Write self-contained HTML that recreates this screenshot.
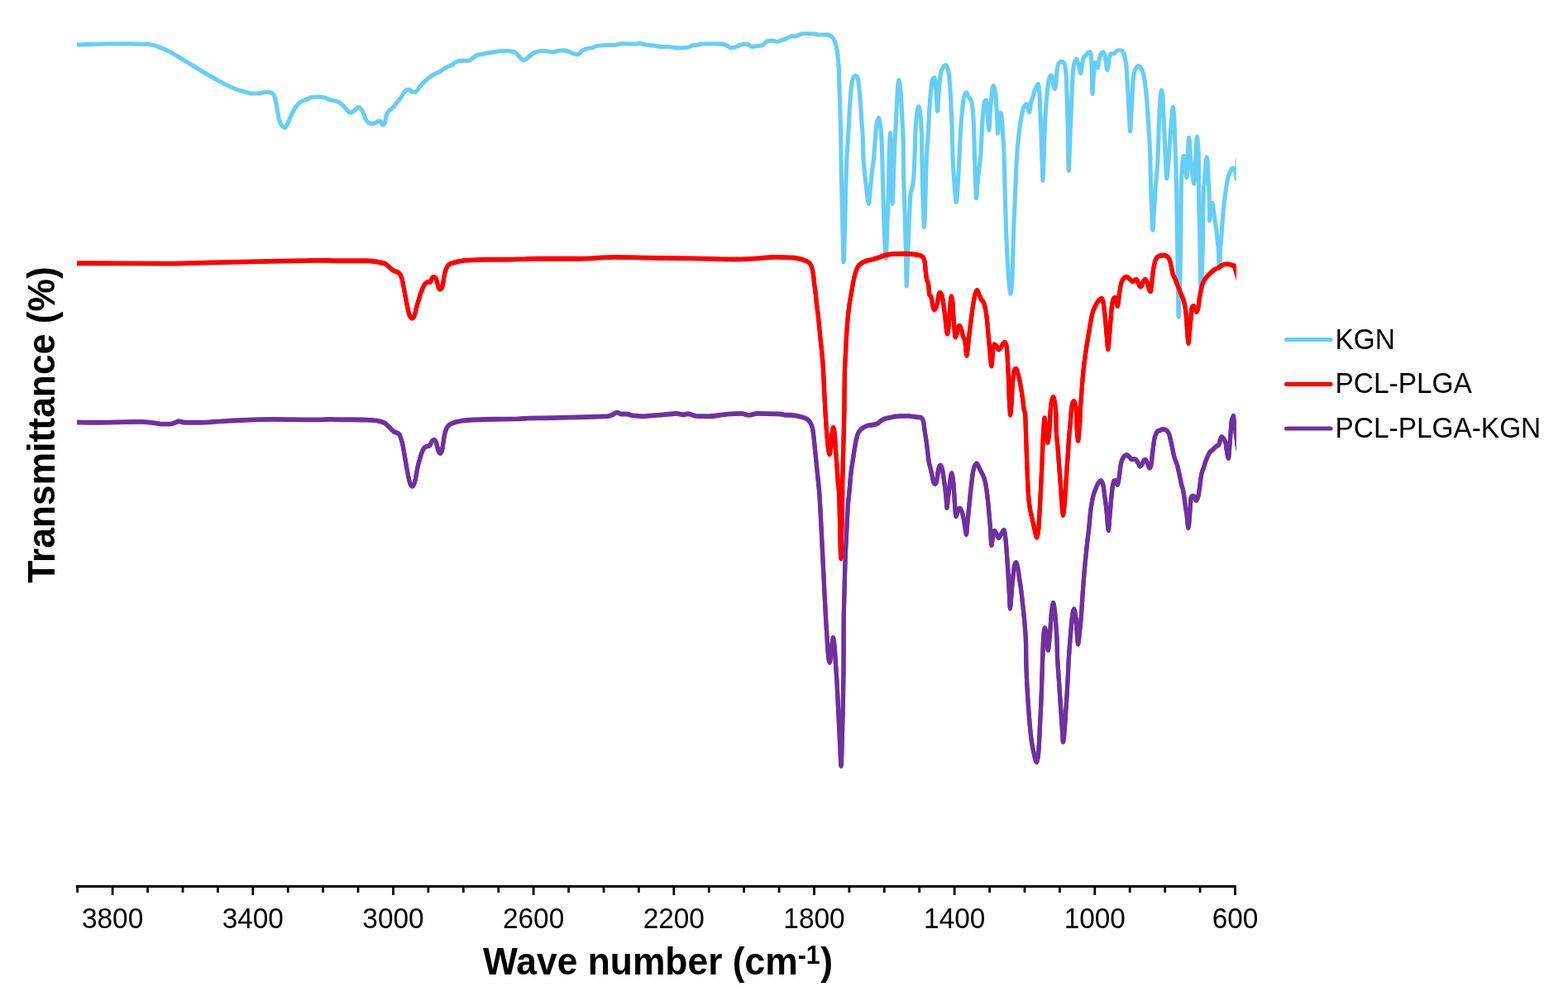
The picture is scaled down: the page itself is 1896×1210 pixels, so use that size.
<!DOCTYPE html>
<html lang="en">
<head>
<meta charset="utf-8">
<title>FTIR spectra</title>
<style>
html,body{margin:0;padding:0;background:#fff;}
body{width:1896px;height:1210px;overflow:hidden;font-family:"Liberation Sans",sans-serif;}
svg{display:block;}
.curve{fill:none;stroke-width:5.15;stroke-linejoin:round;stroke-linecap:round;}
.tick line{stroke:#000;stroke-width:2.8;}
.lbl text{font-family:"Liberation Sans",sans-serif;font-size:33.4px;fill:#000;}
.ttl{font-family:"Liberation Sans",sans-serif;font-weight:bold;font-size:44.4px;fill:#000;}
</style>
</head>
<body>
<svg width="1896" height="1210" viewBox="0 0 1896 1210">
<rect width="1896" height="1210" fill="#fff"/>
<svg x="93" y="0" width="1401.8" height="1070" viewBox="93 0 1401.8 1070" overflow="hidden">
<path class="curve" stroke="#66CEF5" d="M93.0,54.0C105.3,53.7 117.7,53.2 130.0,53.0C136.7,52.9 143.3,52.8 150.0,52.8C160.0,52.8 170.0,53.0 180.0,53.5C184.2,53.7 188.3,55.6 192.5,57.0C196.7,58.4 200.8,60.4 205.0,62.5C210.0,65.0 215.0,68.3 220.0,71.2C225.0,74.2 230.0,77.5 235.0,80.5C240.0,83.5 245.0,86.6 250.0,89.5C255.0,92.4 260.0,95.3 265.0,98.0C270.0,100.7 275.0,103.4 280.0,105.5C284.2,107.2 288.3,108.8 292.5,110.0C296.7,111.2 300.8,113.0 305.0,113.0C307.5,113.0 310.0,113.0 312.5,113.0C315.0,113.0 317.5,111.5 320.0,111.5C322.1,111.5 324.2,111.5 326.2,111.5C327.9,111.5 329.6,112.9 331.2,115.0C332.3,116.3 333.4,122.5 334.5,127.5C335.5,132.1 336.5,141.9 337.5,145.0C338.5,148.1 339.5,150.1 340.5,151.2C341.8,152.8 343.2,154.5 344.5,154.5C345.5,154.5 346.5,151.8 347.5,150.0C349.2,147.0 350.8,142.1 352.5,138.8C354.2,135.4 355.8,131.7 357.5,129.5C359.6,126.7 361.7,124.2 363.8,123.0C365.8,121.8 367.9,121.3 370.0,120.5C372.5,119.5 375.0,117.8 377.5,117.5C380.0,117.2 382.5,117.0 385.0,117.0C387.5,117.0 390.0,117.5 392.5,118.0C395.0,118.5 397.5,120.3 400.0,121.0C402.5,121.7 405.0,121.7 407.5,122.5C409.2,123.0 410.8,124.2 412.5,125.5C414.6,127.1 416.7,129.9 418.8,132.0C420.2,133.4 421.6,136.2 423.0,136.2C424.1,136.2 425.2,135.9 426.2,135.5C427.5,135.0 428.8,133.0 430.0,132.0C431.2,131.0 432.5,129.5 433.8,129.5C435.2,129.5 436.6,131.7 438.0,133.8C439.3,135.7 440.7,141.4 442.0,143.8C443.2,145.8 444.3,148.0 445.5,148.5C447.0,149.1 448.5,149.5 450.0,149.5C451.7,149.5 453.3,148.7 455.0,148.0C456.0,147.6 457.0,146.0 458.0,146.0C458.8,146.0 459.7,146.4 460.5,147.0C461.2,147.5 461.8,151.0 462.5,151.0C463.3,151.0 464.2,150.6 465.0,150.0C465.7,149.5 466.3,141.8 467.0,140.0C468.2,136.8 469.3,135.1 470.5,133.8C472.0,132.0 473.5,131.5 475.0,130.0C476.7,128.3 478.3,125.8 480.0,123.8C481.7,121.7 483.3,119.7 485.0,117.5C487.1,114.8 489.2,109.4 491.2,108.8C492.5,108.3 493.8,108.0 495.0,108.0C496.2,108.0 497.5,111.2 498.8,111.2C500.0,111.2 501.2,111.2 502.5,111.2C504.2,111.2 505.8,106.9 507.5,105.0C510.0,102.1 512.5,99.2 515.0,97.0C517.5,94.8 520.0,92.8 522.5,91.2C525.8,89.2 529.2,88.2 532.5,86.2C535.0,84.8 537.5,82.6 540.0,81.2C542.5,79.9 545.0,79.6 547.5,78.0C548.3,77.5 549.2,75.9 550.0,75.5C552.1,74.4 554.2,73.6 556.2,73.5C560.0,73.3 563.8,73.4 567.5,73.2C569.2,73.2 570.8,70.6 572.5,69.5C574.2,68.4 575.8,67.0 577.5,66.5C580.0,65.7 582.5,65.5 585.0,65.0C588.3,64.4 591.7,63.8 595.0,63.2C598.3,62.7 601.7,61.9 605.0,61.8C607.5,61.6 610.0,61.5 612.5,61.5C615.4,61.5 618.3,61.9 621.2,62.5C622.9,62.9 624.6,64.9 626.2,66.5C627.5,67.7 628.8,69.7 630.0,70.8C631.1,71.7 632.2,73.0 633.2,73.0C634.5,73.0 635.8,71.6 637.0,70.8C638.4,69.7 639.8,68.1 641.2,67.0C643.3,65.4 645.4,63.6 647.5,63.0C650.0,62.2 652.5,61.5 655.0,61.5C657.5,61.5 660.0,61.8 662.5,62.0C664.6,62.2 666.7,63.0 668.8,63.0C670.8,63.0 672.9,61.5 675.0,61.2C677.1,61.0 679.2,60.8 681.2,60.8C683.3,60.8 685.4,61.4 687.5,62.0C689.6,62.6 691.7,64.5 693.8,65.0C695.4,65.4 697.1,65.8 698.8,65.8C700.8,65.8 702.9,61.5 705.0,60.5C706.7,59.7 708.3,59.1 710.0,58.8C711.7,58.4 713.3,58.3 715.0,58.0C717.5,57.5 720.0,55.9 722.5,55.5C725.8,55.0 729.2,54.5 732.5,54.5C736.2,54.5 740.0,54.5 743.8,54.5C745.8,54.5 747.9,52.8 750.0,52.8C753.3,52.8 756.7,52.9 760.0,53.0C762.1,53.1 764.2,53.2 766.2,53.2C768.8,53.2 771.2,52.5 773.8,52.5C775.8,52.5 777.9,53.7 780.0,54.0C783.3,54.5 786.7,54.6 790.0,55.0C793.3,55.4 796.7,56.5 800.0,56.5C802.5,56.5 805.0,56.5 807.5,56.5C810.0,56.5 812.5,57.3 815.0,57.5C817.5,57.7 820.0,58.0 822.5,58.0C825.4,58.0 828.3,57.8 831.2,57.5C833.3,57.3 835.4,55.4 837.5,55.0C839.6,54.6 841.7,54.6 843.8,54.2C845.8,53.9 847.9,53.0 850.0,53.0C855.0,53.0 860.0,53.0 865.0,53.0C867.9,53.0 870.8,53.1 873.8,53.2C875.4,53.3 877.1,54.3 878.8,55.0C880.4,55.7 882.1,58.0 883.8,58.0C885.4,58.0 887.1,57.4 888.8,57.0C890.4,56.6 892.1,55.5 893.8,55.0C896.2,54.2 898.8,53.0 901.2,53.0C902.5,53.0 903.8,53.6 905.0,54.0C906.5,54.5 908.0,56.5 909.5,56.5C911.3,56.5 913.2,55.7 915.0,55.5C917.1,55.3 919.2,55.3 921.2,55.0C923.3,54.7 925.4,50.6 927.5,50.0C929.6,49.4 931.7,49.0 933.8,49.0C935.8,49.0 937.9,50.5 940.0,50.5C942.1,50.5 944.2,48.7 946.2,48.0C947.9,47.4 949.6,47.1 951.2,46.5C953.3,45.7 955.4,43.5 957.5,43.5C959.2,43.5 960.8,44.0 962.5,44.0C964.6,44.0 966.7,41.3 968.8,41.0C970.8,40.7 972.9,40.5 975.0,40.5C978.3,40.5 981.7,40.7 985.0,41.0C986.7,41.1 988.3,42.0 990.0,42.0C993.3,42.0 996.7,41.9 1000.0,41.9C1001.8,41.9 1003.5,42.8 1005.3,43.9C1006.6,44.7 1007.9,47.0 1009.3,49.8C1010.1,51.7 1011.0,54.6 1011.9,59.1C1012.3,61.3 1012.8,65.3 1013.2,69.7C1013.6,73.1 1013.9,75.9 1014.3,82.9C1014.5,86.4 1014.6,97.4 1014.8,102.7C1015.1,110.8 1015.3,114.5 1015.6,122.5C1015.8,127.9 1016.0,135.4 1016.1,142.4C1016.4,152.8 1016.7,150.7 1016.9,175.4C1016.9,177.0 1017.0,188.3 1017.0,190.0C1017.3,219.2 1017.6,216.8 1017.8,229.7C1018.2,243.3 1018.5,256.3 1018.8,269.3C1019.0,280.5 1019.3,293.8 1019.6,302.4C1019.7,308.1 1019.9,316.7 1020.1,316.7C1020.4,316.7 1020.6,308.7 1020.9,302.4C1021.2,295.1 1021.5,281.3 1021.8,269.3C1022.1,257.3 1022.4,241.3 1022.7,229.7C1023.1,214.7 1023.5,198.4 1023.9,190.0C1024.5,176.9 1025.2,172.9 1025.8,162.2C1026.2,154.6 1026.7,143.3 1027.1,135.8C1027.5,128.2 1028.0,120.9 1028.4,115.9C1029.1,108.5 1029.7,101.7 1030.4,98.7C1031.1,95.8 1031.7,93.5 1032.4,92.8C1033.1,92.1 1033.9,91.5 1034.6,91.5C1035.4,91.5 1036.2,92.2 1037.0,93.5C1037.5,94.3 1038.1,99.7 1038.6,104.0C1039.2,108.7 1039.7,115.3 1040.3,122.5C1040.8,128.1 1041.2,135.8 1041.6,142.4C1042.1,149.0 1042.5,153.2 1043.0,162.2C1043.3,168.5 1043.6,184.6 1043.9,190.0C1044.5,200.0 1045.0,204.1 1045.6,209.8C1046.4,217.4 1047.1,224.1 1047.9,229.7C1048.7,236.2 1049.6,246.3 1050.5,246.3C1051.1,246.3 1051.6,235.3 1052.2,229.7C1052.9,223.2 1053.5,215.7 1054.2,209.8C1055.0,202.4 1055.9,198.8 1056.7,190.0C1057.2,184.9 1057.7,174.6 1058.2,168.8C1058.8,160.9 1059.5,152.1 1060.2,149.0C1060.9,145.5 1061.7,142.2 1062.4,142.2C1063.0,142.2 1063.5,145.9 1064.1,149.0C1064.6,151.8 1065.2,155.3 1065.7,162.2C1066.1,166.8 1066.4,178.9 1066.8,190.0C1067.2,203.9 1067.6,228.6 1068.1,242.9C1068.7,264.3 1069.4,283.0 1070.1,295.8C1070.4,302.6 1070.8,312.4 1071.1,312.4C1071.4,312.4 1071.7,302.6 1072.1,295.8C1072.5,286.0 1072.9,269.0 1073.4,256.1C1073.7,247.1 1074.0,241.0 1074.3,229.7C1074.6,220.0 1074.8,199.2 1075.1,190.0C1075.3,183.9 1075.4,179.4 1075.6,175.4C1075.9,169.4 1076.2,160.5 1076.4,160.5C1076.7,160.5 1077.0,168.1 1077.3,175.4C1077.6,182.7 1078.0,205.7 1078.3,216.4C1078.6,228.7 1079.0,246.3 1079.3,246.3C1079.7,246.3 1080.0,226.5 1080.4,216.4C1080.7,207.7 1081.0,197.8 1081.3,190.0C1081.6,182.2 1081.9,175.2 1082.2,168.8C1082.6,161.5 1082.9,155.8 1083.3,149.0C1083.7,140.5 1084.2,130.7 1084.6,122.5C1085.0,116.0 1085.3,107.3 1085.7,104.0C1086.1,100.4 1086.5,96.8 1086.9,96.8C1087.3,96.8 1087.8,100.7 1088.3,104.0C1088.8,107.7 1089.4,114.7 1089.9,122.5C1090.3,129.1 1090.8,139.2 1091.2,149.0C1091.6,156.9 1091.9,153.6 1092.3,175.4C1092.3,176.5 1092.3,188.3 1092.3,190.0C1092.6,219.2 1092.9,219.0 1093.2,229.7C1093.6,245.8 1094.1,253.6 1094.5,269.3C1094.8,280.3 1095.1,295.2 1095.5,309.0C1095.7,320.8 1096.0,346.0 1096.2,346.0C1096.7,346.0 1097.1,320.6 1097.6,309.0C1098.0,297.3 1098.4,286.3 1098.9,275.9C1099.3,266.6 1099.7,256.6 1100.1,249.5C1100.4,243.2 1100.8,235.7 1101.1,233.6C1101.7,230.2 1102.3,230.2 1102.9,227.7C1103.5,225.0 1104.1,222.4 1104.7,216.4C1105.1,212.2 1105.6,201.5 1106.0,190.0C1106.3,183.1 1106.6,167.8 1106.8,162.2C1107.4,151.0 1107.9,143.6 1108.4,139.7C1109.2,133.9 1110.0,128.5 1110.8,128.5C1111.5,128.5 1112.3,133.7 1113.0,139.7C1113.5,143.3 1113.9,148.7 1114.4,162.2C1114.5,166.3 1114.6,182.2 1114.8,190.0C1114.9,200.4 1115.1,209.5 1115.3,216.4C1115.6,230.4 1116.0,240.0 1116.3,249.5C1116.7,259.0 1117.0,274.6 1117.4,274.6C1117.8,274.6 1118.3,260.6 1118.7,249.5C1119.0,241.7 1119.3,228.1 1119.6,216.4C1119.9,208.1 1120.1,195.0 1120.3,190.0C1121.0,175.1 1121.6,173.2 1122.3,162.2C1122.7,154.9 1123.2,142.9 1123.6,135.8C1124.3,125.0 1124.9,115.2 1125.6,109.3C1126.3,103.4 1126.9,97.3 1127.6,96.1C1128.5,94.5 1129.3,93.5 1130.2,93.5C1130.8,93.5 1131.3,103.1 1131.8,109.3C1132.4,116.1 1133.0,134.4 1133.5,134.4C1134.1,134.4 1134.7,116.1 1135.2,109.3C1135.8,103.1 1136.3,96.9 1136.8,93.5C1137.5,89.2 1138.2,85.6 1138.8,84.2C1140.4,81.0 1141.9,78.5 1143.4,78.5C1144.5,78.5 1145.6,81.5 1146.7,85.5C1147.4,87.9 1148.1,95.6 1148.7,104.0C1149.2,109.7 1149.6,119.6 1150.1,129.2C1150.5,138.7 1150.9,148.0 1151.4,162.2C1151.6,169.3 1151.8,184.4 1152.0,190.0C1152.6,203.4 1153.1,209.5 1153.6,216.4C1154.5,228.1 1155.4,244.5 1156.3,244.5C1157.1,244.5 1157.9,228.5 1158.6,216.4C1159.1,209.7 1159.5,199.0 1160.0,190.0C1160.4,181.0 1160.8,169.5 1161.3,162.2C1162.0,151.3 1162.6,142.5 1163.3,135.8C1164.0,128.1 1164.8,119.9 1165.5,117.3C1166.4,114.2 1167.3,111.6 1168.2,111.6C1169.2,111.6 1170.2,115.7 1171.2,117.3C1172.2,118.8 1173.2,118.9 1174.2,121.2C1175.0,122.9 1175.7,128.1 1176.5,135.8C1176.9,140.3 1177.4,149.8 1177.8,162.2C1178.0,168.4 1178.3,182.4 1178.5,190.0C1178.8,200.6 1179.1,208.8 1179.4,216.4C1179.8,225.2 1180.1,239.6 1180.5,239.6C1181.1,239.6 1181.8,222.8 1182.4,216.4C1183.0,211.3 1183.5,207.5 1184.0,203.2C1184.6,198.6 1185.2,196.6 1185.7,190.0C1186.2,184.9 1186.6,170.1 1187.1,162.2C1187.6,152.0 1188.2,141.4 1188.8,135.8C1189.4,129.7 1190.0,123.7 1190.6,122.5C1191.2,121.5 1191.8,120.7 1192.4,120.7C1192.9,120.7 1193.5,130.0 1194.1,135.8C1194.7,142.0 1195.3,157.6 1195.9,157.6C1196.4,157.6 1196.8,141.8 1197.3,135.8C1197.8,127.9 1198.4,120.6 1199.0,115.9C1199.6,110.6 1200.3,103.6 1201.0,103.6C1201.8,103.6 1202.7,107.2 1203.6,112.0C1204.0,114.4 1204.5,122.3 1204.9,129.2C1205.3,134.6 1205.6,141.5 1206.0,149.0C1206.2,152.7 1206.3,161.5 1206.5,161.5C1207.1,161.5 1207.7,145.1 1208.2,142.4C1208.9,139.2 1209.5,136.4 1210.2,136.4C1210.7,136.4 1211.3,143.5 1211.8,149.0C1212.2,153.6 1212.7,161.3 1213.1,168.8C1213.5,175.0 1213.8,180.4 1214.2,190.0C1214.6,200.6 1215.0,225.2 1215.4,240.0C1215.8,254.8 1216.2,269.4 1216.6,280.0C1216.9,287.9 1217.2,293.7 1217.5,300.0C1217.8,307.0 1218.2,314.6 1218.5,320.0C1219.0,328.1 1219.5,335.1 1220.0,340.0C1220.7,346.5 1221.3,355.2 1222.0,355.2C1222.6,355.2 1223.2,348.5 1223.8,340.0C1224.0,336.7 1224.3,327.9 1224.5,320.0C1224.7,314.4 1224.8,306.1 1225.0,300.0C1225.2,292.7 1225.4,285.7 1225.6,280.0C1226.2,263.9 1226.7,253.1 1227.3,240.0C1228.0,223.0 1228.8,201.0 1229.5,190.0C1230.3,177.4 1231.2,169.4 1232.0,162.2C1232.9,154.6 1233.8,148.5 1234.7,143.7C1235.8,137.7 1236.9,130.9 1238.0,129.2C1239.1,127.4 1240.2,125.8 1241.3,125.8C1242.4,125.8 1243.5,135.8 1244.6,135.8C1245.3,135.8 1246.0,126.5 1246.7,123.9C1247.4,121.2 1248.1,120.2 1248.8,117.9C1249.5,115.8 1250.1,112.6 1250.8,110.6C1251.4,108.8 1252.0,107.3 1252.6,106.0C1253.5,104.2 1254.4,101.5 1255.3,101.5C1255.8,101.5 1256.3,106.4 1256.9,112.0C1257.2,115.7 1257.6,127.4 1257.9,135.8C1258.3,144.1 1258.6,152.6 1259.0,162.2C1259.3,170.6 1259.6,181.3 1259.9,190.0C1260.3,200.0 1260.6,218.3 1261.0,218.3C1261.4,218.3 1261.8,201.4 1262.2,190.0C1262.4,182.4 1262.7,169.1 1263.0,162.2C1263.4,150.7 1263.8,142.6 1264.3,135.8C1264.8,127.6 1265.3,121.4 1265.9,115.9C1266.5,109.1 1267.2,102.0 1267.8,98.7C1268.5,95.5 1269.2,92.4 1269.8,91.9C1270.4,91.4 1270.9,91.1 1271.4,91.1C1272.1,91.1 1272.8,98.6 1273.5,101.4C1274.1,103.9 1274.8,107.7 1275.4,107.7C1276.0,107.7 1276.5,100.8 1277.1,96.1C1277.5,92.5 1278.0,85.2 1278.4,82.9C1279.1,79.5 1279.7,77.2 1280.4,76.3C1281.1,75.4 1281.7,74.6 1282.4,74.6C1283.1,74.5 1283.9,74.4 1284.6,74.4C1285.5,74.4 1286.4,75.7 1287.3,77.6C1287.9,78.8 1288.4,83.2 1289.0,89.5C1289.3,92.9 1289.6,101.2 1289.9,109.3C1290.2,116.3 1290.5,126.1 1290.7,135.8C1290.9,143.8 1291.2,150.7 1291.4,162.2C1291.5,169.1 1291.6,184.2 1291.8,190.0C1292.0,197.8 1292.1,206.5 1292.3,206.5C1292.6,206.5 1292.8,196.5 1293.1,190.0C1293.4,182.4 1293.7,170.1 1294.0,162.2C1294.4,152.0 1294.8,145.1 1295.2,135.8C1295.6,127.5 1295.9,116.9 1296.3,109.3C1296.6,101.8 1297.0,93.4 1297.3,89.5C1297.9,82.6 1298.6,77.3 1299.2,75.6C1300.1,73.2 1300.9,71.4 1301.8,71.4C1302.6,71.4 1303.4,74.9 1304.2,77.6C1305.0,80.3 1305.8,88.7 1306.6,88.7C1307.2,88.7 1307.8,82.0 1308.4,78.9C1309.1,75.4 1309.8,70.0 1310.5,69.0C1311.5,67.6 1312.5,67.6 1313.5,66.6C1314.3,65.8 1315.0,63.8 1315.8,63.3C1316.6,62.9 1317.3,62.5 1318.1,62.5C1318.6,62.5 1319.1,64.5 1319.5,68.3C1319.7,69.7 1319.9,77.3 1320.1,82.9C1320.2,88.5 1320.4,97.2 1320.6,102.7C1320.7,106.9 1320.9,113.6 1321.0,113.6C1321.3,113.6 1321.7,101.5 1322.1,96.1C1322.4,91.4 1322.7,85.8 1323.0,82.9C1323.3,79.6 1323.7,75.6 1324.0,75.6C1324.6,75.6 1325.1,75.9 1325.6,76.3C1326.2,76.7 1326.8,82.1 1327.3,82.1C1327.9,82.1 1328.5,74.7 1329.1,72.3C1329.8,69.2 1330.6,66.1 1331.3,65.0C1332.2,63.8 1333.1,62.7 1334.0,62.7C1334.6,62.7 1335.3,64.7 1335.9,67.0C1336.4,68.5 1336.8,73.6 1337.3,76.3C1337.8,79.4 1338.3,84.5 1338.8,84.5C1339.4,84.5 1340.0,79.4 1340.6,76.3C1341.0,73.8 1341.4,68.7 1341.9,67.7C1342.5,66.1 1343.2,64.9 1343.9,64.9C1345.0,64.9 1346.1,65.0 1347.2,65.0C1347.8,65.0 1348.5,63.2 1349.2,62.7C1350.3,61.8 1351.4,60.9 1352.5,60.8C1353.6,60.7 1354.7,60.7 1355.8,60.7C1356.7,60.7 1357.7,62.5 1358.7,64.4C1359.4,65.7 1360.1,68.6 1360.8,72.3C1361.3,75.1 1361.8,79.6 1362.4,85.5C1362.7,89.5 1363.1,96.6 1363.4,102.7C1363.8,108.9 1364.1,115.9 1364.5,122.5C1364.8,129.2 1365.2,136.4 1365.5,142.4C1365.9,148.4 1366.3,158.9 1366.6,158.9C1367.0,158.9 1367.3,148.4 1367.7,142.4C1368.0,136.4 1368.4,129.2 1368.7,122.5C1369.1,115.9 1369.4,107.5 1369.8,102.7C1370.2,97.3 1370.6,92.2 1371.0,90.2C1371.7,86.2 1372.5,84.0 1373.2,82.9C1374.4,81.1 1375.5,79.6 1376.7,79.6C1377.8,79.6 1379.0,81.2 1380.2,82.9C1381.1,84.2 1382.0,87.2 1382.9,90.8C1383.5,93.5 1384.2,97.8 1384.8,102.7C1385.5,107.7 1386.2,114.5 1386.8,122.5C1387.3,127.9 1387.7,135.8 1388.2,142.4C1388.6,149.0 1389.0,154.5 1389.5,162.2C1389.9,169.9 1390.4,177.3 1390.8,190.0C1391.1,198.9 1391.4,219.9 1391.7,229.7C1392.1,240.9 1392.4,248.1 1392.8,256.1C1393.1,264.1 1393.5,278.3 1393.8,278.3C1394.4,278.3 1394.9,264.1 1395.4,256.1C1396.0,248.1 1396.5,236.9 1397.0,229.7C1397.6,221.8 1398.2,217.3 1398.7,209.8C1399.2,204.0 1399.6,199.0 1400.1,190.0C1400.4,183.7 1400.7,170.6 1401.0,162.2C1401.3,152.6 1401.7,142.4 1402.0,135.8C1402.5,127.4 1402.9,119.9 1403.4,115.9C1403.7,112.8 1404.1,109.1 1404.4,109.1C1404.9,109.1 1405.3,112.3 1405.7,115.9C1406.1,118.9 1406.4,128.6 1406.8,135.8C1407.2,143.8 1407.6,153.6 1408.0,162.2C1408.4,171.7 1408.9,181.8 1409.3,190.0C1409.8,199.6 1410.3,215.9 1410.9,215.9C1411.4,215.9 1412.0,206.0 1412.6,199.5C1413.1,194.1 1413.6,186.8 1414.1,179.7C1414.6,173.5 1415.0,165.7 1415.4,159.8C1415.8,154.4 1416.2,149.3 1416.6,145.0C1417.1,139.1 1417.7,129.4 1418.2,129.4C1418.7,129.4 1419.1,134.5 1419.6,140.0C1420.0,144.7 1420.4,158.9 1420.8,169.7C1421.1,178.8 1421.4,188.4 1421.8,199.5C1422.0,208.3 1422.3,224.2 1422.6,229.2C1422.6,229.6 1422.6,229.7 1422.6,230.0C1422.8,235.1 1423.1,265.8 1423.3,280.0C1423.7,299.4 1424.0,309.9 1424.3,330.0C1424.6,344.4 1424.8,383.1 1425.0,383.1C1425.7,383.1 1426.4,356.1 1427.1,330.0C1427.4,319.3 1427.6,308.4 1427.9,280.0C1428.0,271.5 1428.1,234.3 1428.2,230.0C1428.4,215.8 1428.7,214.6 1429.0,209.4C1429.3,203.2 1429.7,197.0 1430.0,194.5C1430.4,191.3 1430.8,188.3 1431.3,188.3C1431.8,188.3 1432.4,192.2 1433.0,195.5C1433.6,199.4 1434.3,214.6 1434.9,214.6C1435.3,214.6 1435.6,206.2 1435.9,199.5C1436.2,194.8 1436.4,184.0 1436.6,179.7C1437.0,173.5 1437.3,166.3 1437.6,166.3C1438.1,166.3 1438.5,174.7 1438.9,179.7C1439.4,185.4 1439.9,194.5 1440.4,199.5C1441.1,206.2 1441.7,211.4 1442.4,215.4C1442.9,218.3 1443.4,222.5 1443.9,222.5C1444.2,222.5 1444.5,214.7 1444.9,209.4C1445.2,204.2 1445.5,196.4 1445.9,189.6C1446.1,184.8 1446.3,177.8 1446.5,174.7C1446.9,170.3 1447.2,165.3 1447.5,165.3C1448.0,165.3 1448.4,172.5 1448.8,179.7C1449.1,183.5 1449.3,182.8 1449.5,199.5C1449.5,200.9 1449.6,227.8 1449.6,230.0C1449.9,270.8 1450.3,260.1 1450.7,280.0C1450.9,293.8 1451.2,319.6 1451.4,330.0C1451.6,338.1 1451.8,348.0 1452.0,348.0C1452.7,348.0 1453.3,329.6 1454.0,310.0C1454.5,296.3 1454.9,239.0 1455.4,230.0C1455.7,224.4 1456.0,223.0 1456.3,219.3C1456.8,213.0 1457.3,203.8 1457.8,199.5C1458.2,195.2 1458.7,190.1 1459.2,190.1C1459.6,190.1 1460.0,194.6 1460.4,199.5C1460.7,202.8 1461.0,214.3 1461.2,219.3C1461.5,223.7 1461.7,224.7 1461.9,230.0C1462.1,233.2 1462.2,237.7 1462.3,246.7C1462.4,250.3 1462.4,266.7 1462.5,266.7C1462.9,266.7 1463.3,257.8 1463.8,255.0C1464.4,250.6 1465.0,245.0 1465.7,245.0C1466.3,245.0 1466.9,251.1 1467.5,255.0C1468.1,258.5 1468.6,263.6 1469.2,267.5C1469.9,272.5 1470.6,275.9 1471.3,281.7C1471.7,285.3 1472.2,290.6 1472.6,295.0C1472.9,298.0 1473.2,298.7 1473.5,304.0C1473.6,305.8 1473.7,314.4 1473.8,316.0C1474.0,319.7 1474.3,322.3 1474.5,322.3C1474.8,322.3 1475.0,320.4 1475.3,316.0C1475.4,314.9 1475.4,305.8 1475.5,304.0C1475.7,298.7 1475.9,297.6 1476.1,295.0C1476.4,290.7 1476.8,288.3 1477.1,284.0C1477.4,280.6 1477.6,275.5 1477.9,271.7C1478.3,265.6 1478.8,259.5 1479.2,255.0C1479.8,248.6 1480.4,244.1 1481.1,239.2C1481.7,233.9 1482.4,228.2 1483.0,224.3C1483.7,220.3 1484.4,216.8 1485.0,214.4C1485.8,211.4 1486.7,209.1 1487.5,207.4C1488.5,205.5 1489.5,203.0 1490.5,203.0C1491.3,203.0 1492.1,203.3 1493.0,203.5L1495.1,216.4L1497.1,189.6"/>
<path class="curve" stroke="#FF0000" transform="translate(0,-0.35)" d="M92.9,318.2C112.5,318.2 132.1,318.3 151.7,318.3C169.7,318.4 187.6,318.7 205.5,318.7C223.5,318.7 241.4,317.7 259.3,317.3C277.3,316.8 295.2,316.5 313.1,316.2C331.1,315.8 349.0,315.4 366.9,315.1C377.7,315.0 388.5,314.7 399.2,314.7C399.5,314.7 399.7,315.2 400.0,315.2C404.4,315.2 408.8,315.2 413.2,315.2C423.4,315.2 433.5,315.2 443.6,315.2C446.7,315.2 449.8,315.6 452.9,316.0C455.1,316.2 457.3,316.8 459.5,317.3C461.3,317.6 463.0,317.8 464.8,318.3C466.1,318.8 467.4,320.0 468.7,321.0C470.1,322.0 471.4,323.6 472.7,324.7C474.0,325.8 475.4,327.1 476.7,327.6C478.0,328.1 479.3,328.1 480.6,328.7C481.5,329.0 482.4,329.8 483.3,330.9C484.2,332.0 485.1,334.1 485.9,336.8C486.6,338.9 487.3,342.8 487.9,346.1C488.6,349.4 489.2,353.2 489.9,356.7C490.6,360.2 491.2,364.0 491.9,367.3C492.5,370.5 493.2,374.1 493.9,376.5C494.5,378.9 495.2,381.6 495.8,382.5C496.7,383.7 497.6,384.7 498.5,384.7C499.2,384.7 500.0,383.7 500.7,382.5C501.3,381.5 501.9,378.6 502.5,376.5C503.1,374.1 503.8,371.0 504.4,368.6C505.1,366.2 505.8,364.2 506.4,362.0C507.1,359.8 507.7,357.3 508.4,355.4C509.1,353.4 509.7,351.7 510.4,350.1C511.1,348.4 511.7,346.5 512.4,345.4C513.3,344.0 514.1,342.8 515.0,342.1C515.9,341.5 516.8,340.8 517.7,340.8C518.5,340.8 519.4,341.1 520.3,341.1C520.7,341.1 521.2,339.1 521.6,338.2C522.1,337.2 522.5,335.7 523.0,335.5C523.6,335.2 524.3,335.0 524.9,335.0C525.6,335.0 526.3,335.5 526.9,336.2C527.4,336.7 528.0,339.1 528.5,340.8C529.1,342.7 529.6,346.3 530.2,347.4C530.8,348.6 531.4,349.8 531.9,349.8C532.6,349.8 533.2,349.3 533.8,348.7C534.4,348.2 534.9,345.8 535.5,343.5C536.0,341.6 536.4,337.8 536.8,335.5C537.4,332.5 538.0,329.4 538.6,327.6C539.3,325.2 540.0,323.4 540.8,322.3C541.9,320.7 543.0,319.6 544.1,319.0C545.4,318.3 546.7,318.1 548.1,317.7C550.3,317.0 552.5,316.4 554.7,316.0C556.9,315.5 559.1,315.1 561.3,314.9C566.1,314.5 571.0,314.3 575.8,314.1C579.8,313.9 583.8,313.7 587.7,313.7C595.7,313.7 603.6,313.7 611.5,313.7C619.5,313.7 627.4,313.2 635.3,313.1C640.2,312.9 645.1,312.8 650.0,312.8C665.7,312.8 681.3,312.8 697.0,312.8C712.8,312.8 728.6,310.9 744.4,310.9C760.2,310.9 776.1,311.6 791.9,311.8C807.7,312.1 823.5,312.2 839.4,312.4C855.2,312.7 871.0,313.5 886.8,313.5C896.3,313.5 905.8,312.9 915.3,312.4C921.6,312.1 928.0,310.9 934.3,310.9C937.4,310.9 940.6,310.9 943.8,310.9C945.9,310.9 947.9,311.1 950.0,311.2C952.6,311.3 955.3,311.3 957.9,311.4C960.6,311.6 963.2,312.2 965.9,312.7C968.1,313.2 970.3,313.7 972.5,314.5C974.2,315.1 976.0,315.8 977.8,317.1C978.9,317.9 980.0,319.3 981.1,321.7C981.7,323.2 982.4,326.0 983.1,329.7C983.6,332.6 984.1,338.6 984.6,342.9C985.2,347.5 985.8,351.1 986.4,356.1C986.8,360.0 987.2,365.5 987.7,369.3C988.3,374.3 988.8,377.5 989.4,382.5C989.8,386.4 990.3,391.4 990.7,395.8C991.2,400.2 991.6,404.6 992.0,409.0C992.5,413.4 992.9,417.8 993.4,422.2C993.8,426.6 994.2,430.0 994.7,435.4C995.0,439.2 995.3,444.4 995.6,450.0C995.9,455.6 996.2,463.7 996.5,469.8C996.9,476.9 997.2,483.1 997.6,489.7C997.9,496.3 998.3,504.0 998.7,509.5C999.1,516.3 999.5,521.7 1000.0,526.7C1000.5,532.7 1001.0,539.4 1001.6,542.5C1002.1,545.7 1002.6,549.2 1003.1,549.2C1003.7,549.2 1004.3,544.2 1004.9,539.9C1005.3,536.6 1005.7,527.4 1006.2,524.0C1006.6,520.7 1007.1,516.8 1007.5,516.8C1008.1,516.8 1008.7,520.2 1009.2,524.0C1009.7,527.0 1010.1,536.2 1010.5,542.5C1011.0,548.9 1011.4,555.8 1011.9,562.4C1012.3,569.0 1012.8,576.9 1013.2,582.2C1013.6,587.5 1014.1,588.5 1014.5,595.4C1014.7,598.2 1014.9,604.2 1015.0,610.0C1015.3,618.7 1015.6,633.0 1015.8,643.1C1016.1,654.8 1016.5,675.4 1016.8,675.4C1017.1,675.4 1017.4,654.8 1017.7,643.1C1018.0,633.0 1018.2,627.0 1018.5,610.0C1018.6,604.3 1018.7,587.7 1018.7,582.2C1019.0,568.6 1019.2,564.6 1019.4,555.8C1019.6,547.0 1019.8,538.1 1020.1,529.3C1020.3,520.5 1020.5,514.1 1020.7,502.9C1020.9,496.1 1021.0,487.2 1021.1,476.4C1021.2,469.3 1021.3,453.5 1021.4,450.0C1021.6,441.2 1021.8,440.2 1022.1,435.4C1022.4,428.7 1022.7,421.3 1023.0,415.6C1023.3,409.1 1023.7,403.3 1024.0,398.4C1024.5,392.3 1024.9,386.9 1025.4,382.5C1025.9,377.3 1026.4,373.1 1026.9,369.3C1027.6,364.3 1028.4,360.3 1029.1,356.1C1029.7,352.4 1030.3,348.8 1030.9,345.5C1031.6,341.8 1032.3,337.9 1033.0,334.9C1033.8,331.8 1034.5,328.9 1035.3,327.0C1036.2,324.8 1037.0,322.9 1037.9,321.7C1039.0,320.2 1040.1,319.2 1041.2,318.4C1043.0,317.2 1044.7,316.4 1046.5,315.8C1048.7,315.0 1050.9,314.7 1053.1,314.1C1056.2,313.2 1059.3,312.5 1062.4,311.4C1064.6,310.7 1066.8,309.4 1069.0,308.8C1071.2,308.2 1073.4,307.7 1075.6,307.5C1077.8,307.2 1080.0,307.0 1082.2,306.9C1086.6,306.8 1091.0,306.7 1095.4,306.7C1099.0,306.7 1102.5,307.1 1106.0,307.5C1108.2,307.7 1110.4,308.1 1112.6,308.8C1113.8,309.2 1115.1,309.8 1116.3,311.2C1116.9,311.8 1117.5,313.6 1118.2,316.4C1118.5,318.1 1118.9,323.9 1119.2,327.0C1119.7,331.0 1120.1,335.8 1120.5,337.6C1121.2,340.3 1121.9,340.0 1122.5,342.9C1123.0,344.8 1123.4,355.0 1123.8,356.1C1124.5,357.7 1125.2,357.3 1125.8,358.7C1126.5,360.2 1127.2,366.8 1127.8,369.3C1128.4,371.5 1129.0,374.6 1129.5,374.6C1130.3,374.6 1131.0,373.3 1131.8,372.0C1132.4,370.8 1133.1,367.3 1133.8,364.0C1134.2,361.9 1134.6,357.2 1135.1,356.1C1135.6,354.8 1136.1,353.7 1136.7,353.7C1137.5,353.7 1138.3,355.4 1139.1,357.4C1139.7,359.1 1140.4,364.9 1141.0,369.3C1141.6,373.2 1142.2,377.5 1142.8,382.5C1143.2,386.4 1143.6,392.5 1144.1,395.8C1144.5,399.1 1145.0,403.7 1145.4,403.7C1145.9,403.7 1146.5,399.7 1147.0,395.8C1147.3,393.2 1147.7,387.3 1148.0,382.5C1148.4,378.4 1148.7,372.7 1149.0,369.3C1149.4,364.6 1149.9,358.1 1150.3,358.1C1150.9,358.1 1151.4,362.0 1152.0,366.7C1152.3,369.2 1152.6,377.7 1152.9,382.5C1153.2,387.4 1153.6,392.3 1153.9,395.8C1154.3,400.7 1154.7,407.7 1155.2,407.7C1155.8,407.7 1156.3,405.6 1156.9,403.7C1157.3,402.2 1157.8,396.6 1158.2,395.8C1158.9,394.6 1159.5,393.8 1160.2,393.8C1161.0,393.8 1161.8,396.3 1162.6,398.4C1163.2,400.1 1163.8,404.5 1164.4,406.3C1165.2,408.7 1166.0,408.5 1166.8,411.6C1167.2,413.0 1167.5,419.0 1167.9,422.2C1168.2,425.0 1168.5,429.9 1168.8,429.9C1169.2,429.9 1169.7,425.4 1170.1,422.2C1170.6,419.0 1171.0,412.9 1171.4,409.0C1172.1,403.1 1172.8,398.4 1173.4,393.1C1174.1,387.8 1174.7,382.1 1175.4,377.3C1176.1,372.4 1176.7,367.7 1177.4,364.0C1178.1,360.4 1178.7,356.6 1179.4,354.8C1180.0,352.9 1180.7,350.8 1181.4,350.8C1182.2,350.8 1183.1,354.2 1184.0,356.1C1184.9,358.0 1185.8,360.6 1186.6,362.1C1187.5,363.5 1188.4,363.7 1189.3,365.4C1190.0,366.6 1190.6,369.0 1191.3,372.0C1191.9,374.9 1192.6,379.7 1193.3,385.2C1193.8,389.6 1194.3,396.8 1194.8,402.4C1195.5,409.8 1196.2,415.9 1196.9,424.0C1197.2,427.6 1197.5,433.3 1197.9,435.9C1198.2,438.9 1198.6,442.5 1198.9,442.5C1199.3,442.5 1199.6,435.9 1200.0,432.0C1200.3,428.5 1200.6,421.6 1200.9,420.1C1201.3,417.8 1201.8,416.1 1202.2,416.1C1203.1,416.1 1204.0,417.7 1204.9,418.7C1205.7,419.8 1206.6,422.7 1207.5,422.7C1208.4,422.7 1209.3,421.2 1210.2,420.1C1211.0,418.9 1211.9,416.4 1212.8,415.4C1213.5,414.7 1214.3,413.7 1215.0,413.7C1215.8,413.7 1216.5,415.7 1217.2,418.7C1217.5,420.1 1217.8,424.8 1218.1,429.3C1218.3,432.6 1218.5,438.1 1218.7,442.5C1219.0,447.0 1219.2,450.1 1219.4,455.8C1219.5,459.1 1219.7,465.2 1219.8,469.0C1220.0,474.1 1220.2,478.6 1220.3,482.2C1220.6,487.6 1220.9,491.8 1221.1,495.4C1221.3,497.9 1221.5,501.8 1221.7,501.8C1222.1,501.8 1222.5,494.6 1223.0,488.8C1223.3,484.2 1223.7,474.2 1224.0,469.0C1224.5,462.5 1224.9,455.9 1225.4,453.1C1225.9,449.8 1226.4,446.9 1226.9,446.5C1227.5,446.1 1228.1,445.8 1228.7,445.8C1229.3,445.8 1230.0,448.5 1230.6,450.5C1231.3,452.4 1232.0,455.4 1232.6,458.4C1233.3,461.4 1234.0,465.1 1234.6,469.0C1235.3,472.9 1235.9,477.5 1236.6,482.2C1237.2,486.3 1237.7,492.7 1238.3,495.4C1238.8,497.5 1239.2,497.1 1239.6,500.0C1239.9,502.0 1240.3,517.6 1240.6,526.4C1240.9,535.3 1241.2,544.6 1241.5,552.9C1241.8,562.3 1242.2,571.8 1242.5,579.3C1242.9,586.9 1243.2,594.9 1243.6,599.2C1244.2,606.7 1244.8,611.3 1245.5,615.0C1246.3,620.3 1247.2,623.0 1248.1,626.9C1249.0,630.9 1249.9,635.3 1250.7,638.8C1251.8,642.9 1252.8,649.7 1253.8,649.7C1254.4,649.7 1255.1,644.3 1255.8,638.8C1256.2,635.2 1256.6,626.4 1257.1,619.0C1257.4,613.1 1257.8,606.2 1258.1,599.2C1258.5,593.0 1258.8,585.9 1259.1,579.3C1259.4,572.7 1259.7,566.6 1260.0,559.5C1260.3,553.4 1260.5,545.8 1260.8,539.7C1261.1,532.5 1261.4,524.4 1261.7,519.8C1262.2,513.3 1262.6,505.3 1263.0,505.3C1263.7,505.3 1264.4,514.9 1265.0,519.8C1265.7,524.8 1266.3,535.0 1267.0,535.0C1267.4,535.0 1267.9,530.3 1268.3,526.4C1268.7,523.4 1269.0,518.6 1269.4,513.2C1269.7,508.5 1270.0,499.0 1270.3,495.4C1270.7,490.3 1271.2,486.6 1271.6,484.8C1272.3,482.2 1273.0,479.8 1273.6,479.8C1274.3,479.8 1274.9,483.6 1275.6,487.5C1276.0,490.1 1276.5,492.1 1276.9,502.0C1277.0,504.0 1277.1,517.7 1277.2,519.8C1277.8,533.5 1278.3,532.6 1278.9,539.7C1279.6,547.8 1280.2,557.3 1280.9,566.1C1281.5,574.9 1282.2,583.2 1282.9,592.5C1283.3,598.8 1283.7,607.8 1284.2,612.4C1284.6,617.0 1285.1,623.0 1285.5,623.0C1286.2,623.0 1286.8,613.2 1287.5,605.8C1287.9,600.8 1288.4,592.5 1288.8,585.9C1289.3,579.3 1289.7,572.7 1290.1,566.1C1290.6,559.5 1291.0,552.9 1291.5,546.3C1291.9,539.7 1292.3,531.7 1292.8,526.4C1293.2,521.2 1293.7,518.4 1294.1,513.2C1294.5,509.0 1294.8,501.4 1295.2,498.1C1295.7,493.1 1296.2,488.8 1296.7,487.5C1297.4,485.9 1298.1,484.6 1298.7,484.6C1299.4,484.6 1300.1,487.9 1300.7,491.5C1301.1,493.4 1301.4,496.3 1301.8,502.0C1301.9,504.9 1302.1,516.9 1302.3,519.8C1302.7,527.2 1303.2,533.1 1303.6,533.1C1304.1,533.1 1304.5,524.7 1304.9,519.8C1305.3,515.9 1305.6,514.2 1306.0,506.6C1306.1,504.7 1306.2,497.3 1306.3,495.4C1306.6,487.8 1307.0,486.9 1307.3,482.2C1307.6,478.1 1307.9,473.1 1308.2,469.0C1308.6,464.3 1309.0,459.7 1309.3,455.8C1309.7,450.8 1310.2,446.4 1310.6,442.5C1311.2,437.5 1311.8,433.4 1312.3,429.3C1313.0,424.6 1313.7,420.2 1314.3,416.1C1315.1,411.4 1315.8,407.4 1316.6,402.9C1317.3,398.6 1318.0,393.4 1318.7,389.7C1319.7,384.5 1320.6,379.4 1321.6,376.4C1322.8,372.8 1324.0,370.6 1325.2,368.5C1326.5,366.1 1327.8,363.6 1329.1,362.6C1330.2,361.7 1331.2,360.8 1332.2,360.8C1332.9,360.8 1333.6,363.7 1334.3,366.7C1334.8,368.9 1335.3,375.1 1335.9,379.9C1336.3,383.9 1336.7,388.3 1337.2,393.1C1337.6,397.9 1338.1,404.2 1338.5,409.0C1338.9,413.8 1339.4,422.2 1339.8,422.2C1340.3,422.2 1340.7,413.8 1341.2,409.0C1341.6,404.2 1342.0,398.4 1342.5,393.1C1342.9,387.8 1343.4,381.8 1343.8,377.3C1344.2,372.7 1344.7,367.2 1345.1,365.4C1345.8,362.5 1346.4,360.3 1347.1,360.1C1347.5,359.9 1348.0,359.8 1348.4,359.8C1349.4,359.8 1350.5,370.0 1351.5,370.0C1352.1,370.0 1352.7,360.3 1353.3,356.1C1353.9,352.2 1354.5,348.0 1355.0,345.5C1355.7,342.6 1356.4,340.1 1357.0,338.9C1357.9,337.3 1358.8,336.1 1359.7,335.6C1360.6,335.1 1361.6,334.7 1362.6,334.7C1363.6,334.7 1364.6,336.1 1365.6,336.9C1366.5,337.7 1367.4,339.1 1368.3,339.6C1368.8,339.9 1369.4,340.2 1370.0,340.2C1370.7,340.2 1371.5,338.5 1372.2,338.3C1372.9,338.0 1373.5,337.9 1374.2,337.9C1374.9,337.9 1375.5,340.2 1376.2,341.6C1376.8,342.7 1377.3,344.7 1377.9,345.5C1378.3,346.1 1378.8,346.8 1379.2,346.8C1380.0,346.8 1380.7,344.4 1381.5,342.9C1382.0,341.7 1382.6,339.5 1383.2,338.9C1383.8,338.2 1384.4,337.6 1385.0,337.6C1385.8,337.6 1386.5,339.8 1387.2,341.6C1387.7,342.8 1388.2,345.0 1388.7,346.8C1389.2,348.4 1389.6,350.9 1390.1,351.5C1390.4,352.0 1390.8,352.4 1391.1,352.4C1391.7,352.4 1392.2,346.9 1392.7,342.9C1393.1,340.2 1393.4,335.2 1393.8,332.3C1394.2,328.7 1394.7,325.4 1395.1,323.1C1395.7,319.7 1396.3,316.7 1396.9,315.1C1397.7,313.1 1398.5,311.5 1399.3,310.9C1400.4,310.0 1401.5,309.4 1402.6,309.2C1404.2,308.8 1405.7,308.5 1407.3,308.5C1408.6,308.5 1409.9,309.1 1411.2,309.8C1412.2,310.4 1413.2,311.8 1414.1,313.8C1414.8,315.2 1415.5,318.7 1416.2,321.7C1416.9,324.4 1417.5,329.1 1418.1,331.0C1418.9,333.5 1419.7,334.4 1420.5,336.3C1421.4,338.3 1422.2,340.7 1423.1,342.9C1424.0,345.1 1424.9,347.3 1425.8,349.5C1426.6,351.7 1427.5,353.9 1428.4,356.1C1429.3,358.3 1430.2,360.0 1431.1,362.7C1431.7,364.8 1432.4,366.9 1433.0,370.6C1433.5,373.2 1433.9,377.6 1434.4,382.5C1434.7,386.0 1435.0,391.6 1435.3,395.8C1435.6,400.5 1436.0,405.2 1436.3,409.0C1436.6,411.4 1436.8,415.3 1437.0,415.3C1437.4,415.3 1437.9,406.7 1438.3,402.4C1438.8,398.0 1439.2,394.4 1439.6,389.2C1440.0,385.5 1440.3,377.9 1440.6,375.9C1441.0,373.1 1441.5,371.0 1441.9,370.6C1442.3,370.3 1442.8,370.0 1443.2,370.0C1444.4,370.0 1445.5,377.3 1446.7,377.3C1447.4,377.3 1448.2,374.8 1448.9,372.0C1449.3,370.3 1449.8,364.3 1450.2,361.4C1450.8,357.7 1451.4,354.9 1451.9,352.1C1452.6,349.2 1453.2,346.0 1453.8,344.2C1454.6,341.9 1455.4,340.3 1456.2,338.9C1457.3,337.0 1458.4,335.6 1459.5,334.3C1460.8,332.7 1462.1,331.4 1463.4,330.2C1465.0,328.7 1466.7,327.4 1468.3,326.3C1469.5,325.5 1470.8,324.9 1472.0,324.2C1473.0,323.7 1473.9,323.2 1474.9,322.6C1476.0,321.9 1477.2,320.9 1478.3,320.4C1479.4,319.9 1480.5,319.4 1481.6,319.3C1482.7,319.2 1483.9,319.2 1485.0,319.2C1486.2,319.2 1487.3,319.9 1488.5,320.2C1489.8,320.6 1491.1,320.9 1492.4,321.2L1498.3,341.2"/>
<path class="curve" stroke="#FF0000" transform="translate(0,0.35)" d="M92.9,318.2C112.5,318.2 132.1,318.3 151.7,318.3C169.7,318.4 187.6,318.7 205.5,318.7C223.5,318.7 241.4,317.7 259.3,317.3C277.3,316.8 295.2,316.5 313.1,316.2C331.1,315.8 349.0,315.4 366.9,315.1C377.7,315.0 388.5,314.7 399.2,314.7C399.5,314.7 399.7,315.2 400.0,315.2C404.4,315.2 408.8,315.2 413.2,315.2C423.4,315.2 433.5,315.2 443.6,315.2C446.7,315.2 449.8,315.6 452.9,316.0C455.1,316.2 457.3,316.8 459.5,317.3C461.3,317.6 463.0,317.8 464.8,318.3C466.1,318.8 467.4,320.0 468.7,321.0C470.1,322.0 471.4,323.6 472.7,324.7C474.0,325.8 475.4,327.1 476.7,327.6C478.0,328.1 479.3,328.1 480.6,328.7C481.5,329.0 482.4,329.8 483.3,330.9C484.2,332.0 485.1,334.1 485.9,336.8C486.6,338.9 487.3,342.8 487.9,346.1C488.6,349.4 489.2,353.2 489.9,356.7C490.6,360.2 491.2,364.0 491.9,367.3C492.5,370.5 493.2,374.1 493.9,376.5C494.5,378.9 495.2,381.6 495.8,382.5C496.7,383.7 497.6,384.7 498.5,384.7C499.2,384.7 500.0,383.7 500.7,382.5C501.3,381.5 501.9,378.6 502.5,376.5C503.1,374.1 503.8,371.0 504.4,368.6C505.1,366.2 505.8,364.2 506.4,362.0C507.1,359.8 507.7,357.3 508.4,355.4C509.1,353.4 509.7,351.7 510.4,350.1C511.1,348.4 511.7,346.5 512.4,345.4C513.3,344.0 514.1,342.8 515.0,342.1C515.9,341.5 516.8,340.8 517.7,340.8C518.5,340.8 519.4,341.1 520.3,341.1C520.7,341.1 521.2,339.1 521.6,338.2C522.1,337.2 522.5,335.7 523.0,335.5C523.6,335.2 524.3,335.0 524.9,335.0C525.6,335.0 526.3,335.5 526.9,336.2C527.4,336.7 528.0,339.1 528.5,340.8C529.1,342.7 529.6,346.3 530.2,347.4C530.8,348.6 531.4,349.8 531.9,349.8C532.6,349.8 533.2,349.3 533.8,348.7C534.4,348.2 534.9,345.8 535.5,343.5C536.0,341.6 536.4,337.8 536.8,335.5C537.4,332.5 538.0,329.4 538.6,327.6C539.3,325.2 540.0,323.4 540.8,322.3C541.9,320.7 543.0,319.6 544.1,319.0C545.4,318.3 546.7,318.1 548.1,317.7C550.3,317.0 552.5,316.4 554.7,316.0C556.9,315.5 559.1,315.1 561.3,314.9C566.1,314.5 571.0,314.3 575.8,314.1C579.8,313.9 583.8,313.7 587.7,313.7C595.7,313.7 603.6,313.7 611.5,313.7C619.5,313.7 627.4,313.2 635.3,313.1C640.2,312.9 645.1,312.8 650.0,312.8C665.7,312.8 681.3,312.8 697.0,312.8C712.8,312.8 728.6,310.9 744.4,310.9C760.2,310.9 776.1,311.6 791.9,311.8C807.7,312.1 823.5,312.2 839.4,312.4C855.2,312.7 871.0,313.5 886.8,313.5C896.3,313.5 905.8,312.9 915.3,312.4C921.6,312.1 928.0,310.9 934.3,310.9C937.4,310.9 940.6,310.9 943.8,310.9C945.9,310.9 947.9,311.1 950.0,311.2C952.6,311.3 955.3,311.3 957.9,311.4C960.6,311.6 963.2,312.2 965.9,312.7C968.1,313.2 970.3,313.7 972.5,314.5C974.2,315.1 976.0,315.8 977.8,317.1C978.9,317.9 980.0,319.3 981.1,321.7C981.7,323.2 982.4,326.0 983.1,329.7C983.6,332.6 984.1,338.6 984.6,342.9C985.2,347.5 985.8,351.1 986.4,356.1C986.8,360.0 987.2,365.5 987.7,369.3C988.3,374.3 988.8,377.5 989.4,382.5C989.8,386.4 990.3,391.4 990.7,395.8C991.2,400.2 991.6,404.6 992.0,409.0C992.5,413.4 992.9,417.8 993.4,422.2C993.8,426.6 994.2,430.0 994.7,435.4C995.0,439.2 995.3,444.4 995.6,450.0C995.9,455.6 996.2,463.7 996.5,469.8C996.9,476.9 997.2,483.1 997.6,489.7C997.9,496.3 998.3,504.0 998.7,509.5C999.1,516.3 999.5,521.7 1000.0,526.7C1000.5,532.7 1001.0,539.4 1001.6,542.5C1002.1,545.7 1002.6,549.2 1003.1,549.2C1003.7,549.2 1004.3,544.2 1004.9,539.9C1005.3,536.6 1005.7,527.4 1006.2,524.0C1006.6,520.7 1007.1,516.8 1007.5,516.8C1008.1,516.8 1008.7,520.2 1009.2,524.0C1009.7,527.0 1010.1,536.2 1010.5,542.5C1011.0,548.9 1011.4,555.8 1011.9,562.4C1012.3,569.0 1012.8,576.9 1013.2,582.2C1013.6,587.5 1014.1,588.5 1014.5,595.4C1014.7,598.2 1014.9,604.2 1015.0,610.0C1015.3,618.7 1015.6,633.0 1015.8,643.1C1016.1,654.8 1016.5,675.4 1016.8,675.4C1017.1,675.4 1017.4,654.8 1017.7,643.1C1018.0,633.0 1018.2,627.0 1018.5,610.0C1018.6,604.3 1018.7,587.7 1018.7,582.2C1019.0,568.6 1019.2,564.6 1019.4,555.8C1019.6,547.0 1019.8,538.1 1020.1,529.3C1020.3,520.5 1020.5,514.1 1020.7,502.9C1020.9,496.1 1021.0,487.2 1021.1,476.4C1021.2,469.3 1021.3,453.5 1021.4,450.0C1021.6,441.2 1021.8,440.2 1022.1,435.4C1022.4,428.7 1022.7,421.3 1023.0,415.6C1023.3,409.1 1023.7,403.3 1024.0,398.4C1024.5,392.3 1024.9,386.9 1025.4,382.5C1025.9,377.3 1026.4,373.1 1026.9,369.3C1027.6,364.3 1028.4,360.3 1029.1,356.1C1029.7,352.4 1030.3,348.8 1030.9,345.5C1031.6,341.8 1032.3,337.9 1033.0,334.9C1033.8,331.8 1034.5,328.9 1035.3,327.0C1036.2,324.8 1037.0,322.9 1037.9,321.7C1039.0,320.2 1040.1,319.2 1041.2,318.4C1043.0,317.2 1044.7,316.4 1046.5,315.8C1048.7,315.0 1050.9,314.7 1053.1,314.1C1056.2,313.2 1059.3,312.5 1062.4,311.4C1064.6,310.7 1066.8,309.4 1069.0,308.8C1071.2,308.2 1073.4,307.7 1075.6,307.5C1077.8,307.2 1080.0,307.0 1082.2,306.9C1086.6,306.8 1091.0,306.7 1095.4,306.7C1099.0,306.7 1102.5,307.1 1106.0,307.5C1108.2,307.7 1110.4,308.1 1112.6,308.8C1113.8,309.2 1115.1,309.8 1116.3,311.2C1116.9,311.8 1117.5,313.6 1118.2,316.4C1118.5,318.1 1118.9,323.9 1119.2,327.0C1119.7,331.0 1120.1,335.8 1120.5,337.6C1121.2,340.3 1121.9,340.0 1122.5,342.9C1123.0,344.8 1123.4,355.0 1123.8,356.1C1124.5,357.7 1125.2,357.3 1125.8,358.7C1126.5,360.2 1127.2,366.8 1127.8,369.3C1128.4,371.5 1129.0,374.6 1129.5,374.6C1130.3,374.6 1131.0,373.3 1131.8,372.0C1132.4,370.8 1133.1,367.3 1133.8,364.0C1134.2,361.9 1134.6,357.2 1135.1,356.1C1135.6,354.8 1136.1,353.7 1136.7,353.7C1137.5,353.7 1138.3,355.4 1139.1,357.4C1139.7,359.1 1140.4,364.9 1141.0,369.3C1141.6,373.2 1142.2,377.5 1142.8,382.5C1143.2,386.4 1143.6,392.5 1144.1,395.8C1144.5,399.1 1145.0,403.7 1145.4,403.7C1145.9,403.7 1146.5,399.7 1147.0,395.8C1147.3,393.2 1147.7,387.3 1148.0,382.5C1148.4,378.4 1148.7,372.7 1149.0,369.3C1149.4,364.6 1149.9,358.1 1150.3,358.1C1150.9,358.1 1151.4,362.0 1152.0,366.7C1152.3,369.2 1152.6,377.7 1152.9,382.5C1153.2,387.4 1153.6,392.3 1153.9,395.8C1154.3,400.7 1154.7,407.7 1155.2,407.7C1155.8,407.7 1156.3,405.6 1156.9,403.7C1157.3,402.2 1157.8,396.6 1158.2,395.8C1158.9,394.6 1159.5,393.8 1160.2,393.8C1161.0,393.8 1161.8,396.3 1162.6,398.4C1163.2,400.1 1163.8,404.5 1164.4,406.3C1165.2,408.7 1166.0,408.5 1166.8,411.6C1167.2,413.0 1167.5,419.0 1167.9,422.2C1168.2,425.0 1168.5,429.9 1168.8,429.9C1169.2,429.9 1169.7,425.4 1170.1,422.2C1170.6,419.0 1171.0,412.9 1171.4,409.0C1172.1,403.1 1172.8,398.4 1173.4,393.1C1174.1,387.8 1174.7,382.1 1175.4,377.3C1176.1,372.4 1176.7,367.7 1177.4,364.0C1178.1,360.4 1178.7,356.6 1179.4,354.8C1180.0,352.9 1180.7,350.8 1181.4,350.8C1182.2,350.8 1183.1,354.2 1184.0,356.1C1184.9,358.0 1185.8,360.6 1186.6,362.1C1187.5,363.5 1188.4,363.7 1189.3,365.4C1190.0,366.6 1190.6,369.0 1191.3,372.0C1191.9,374.9 1192.6,379.7 1193.3,385.2C1193.8,389.6 1194.3,396.8 1194.8,402.4C1195.5,409.8 1196.2,415.9 1196.9,424.0C1197.2,427.6 1197.5,433.3 1197.9,435.9C1198.2,438.9 1198.6,442.5 1198.9,442.5C1199.3,442.5 1199.6,435.9 1200.0,432.0C1200.3,428.5 1200.6,421.6 1200.9,420.1C1201.3,417.8 1201.8,416.1 1202.2,416.1C1203.1,416.1 1204.0,417.7 1204.9,418.7C1205.7,419.8 1206.6,422.7 1207.5,422.7C1208.4,422.7 1209.3,421.2 1210.2,420.1C1211.0,418.9 1211.9,416.4 1212.8,415.4C1213.5,414.7 1214.3,413.7 1215.0,413.7C1215.8,413.7 1216.5,415.7 1217.2,418.7C1217.5,420.1 1217.8,424.8 1218.1,429.3C1218.3,432.6 1218.5,438.1 1218.7,442.5C1219.0,447.0 1219.2,450.1 1219.4,455.8C1219.5,459.1 1219.7,465.2 1219.8,469.0C1220.0,474.1 1220.2,478.6 1220.3,482.2C1220.6,487.6 1220.9,491.8 1221.1,495.4C1221.3,497.9 1221.5,501.8 1221.7,501.8C1222.1,501.8 1222.5,494.6 1223.0,488.8C1223.3,484.2 1223.7,474.2 1224.0,469.0C1224.5,462.5 1224.9,455.9 1225.4,453.1C1225.9,449.8 1226.4,446.9 1226.9,446.5C1227.5,446.1 1228.1,445.8 1228.7,445.8C1229.3,445.8 1230.0,448.5 1230.6,450.5C1231.3,452.4 1232.0,455.4 1232.6,458.4C1233.3,461.4 1234.0,465.1 1234.6,469.0C1235.3,472.9 1235.9,477.5 1236.6,482.2C1237.2,486.3 1237.7,492.7 1238.3,495.4C1238.8,497.5 1239.2,497.1 1239.6,500.0C1239.9,502.0 1240.3,517.6 1240.6,526.4C1240.9,535.3 1241.2,544.6 1241.5,552.9C1241.8,562.3 1242.2,571.8 1242.5,579.3C1242.9,586.9 1243.2,594.9 1243.6,599.2C1244.2,606.7 1244.8,611.3 1245.5,615.0C1246.3,620.3 1247.2,623.0 1248.1,626.9C1249.0,630.9 1249.9,635.3 1250.7,638.8C1251.8,642.9 1252.8,649.7 1253.8,649.7C1254.4,649.7 1255.1,644.3 1255.8,638.8C1256.2,635.2 1256.6,626.4 1257.1,619.0C1257.4,613.1 1257.8,606.2 1258.1,599.2C1258.5,593.0 1258.8,585.9 1259.1,579.3C1259.4,572.7 1259.7,566.6 1260.0,559.5C1260.3,553.4 1260.5,545.8 1260.8,539.7C1261.1,532.5 1261.4,524.4 1261.7,519.8C1262.2,513.3 1262.6,505.3 1263.0,505.3C1263.7,505.3 1264.4,514.9 1265.0,519.8C1265.7,524.8 1266.3,535.0 1267.0,535.0C1267.4,535.0 1267.9,530.3 1268.3,526.4C1268.7,523.4 1269.0,518.6 1269.4,513.2C1269.7,508.5 1270.0,499.0 1270.3,495.4C1270.7,490.3 1271.2,486.6 1271.6,484.8C1272.3,482.2 1273.0,479.8 1273.6,479.8C1274.3,479.8 1274.9,483.6 1275.6,487.5C1276.0,490.1 1276.5,492.1 1276.9,502.0C1277.0,504.0 1277.1,517.7 1277.2,519.8C1277.8,533.5 1278.3,532.6 1278.9,539.7C1279.6,547.8 1280.2,557.3 1280.9,566.1C1281.5,574.9 1282.2,583.2 1282.9,592.5C1283.3,598.8 1283.7,607.8 1284.2,612.4C1284.6,617.0 1285.1,623.0 1285.5,623.0C1286.2,623.0 1286.8,613.2 1287.5,605.8C1287.9,600.8 1288.4,592.5 1288.8,585.9C1289.3,579.3 1289.7,572.7 1290.1,566.1C1290.6,559.5 1291.0,552.9 1291.5,546.3C1291.9,539.7 1292.3,531.7 1292.8,526.4C1293.2,521.2 1293.7,518.4 1294.1,513.2C1294.5,509.0 1294.8,501.4 1295.2,498.1C1295.7,493.1 1296.2,488.8 1296.7,487.5C1297.4,485.9 1298.1,484.6 1298.7,484.6C1299.4,484.6 1300.1,487.9 1300.7,491.5C1301.1,493.4 1301.4,496.3 1301.8,502.0C1301.9,504.9 1302.1,516.9 1302.3,519.8C1302.7,527.2 1303.2,533.1 1303.6,533.1C1304.1,533.1 1304.5,524.7 1304.9,519.8C1305.3,515.9 1305.6,514.2 1306.0,506.6C1306.1,504.7 1306.2,497.3 1306.3,495.4C1306.6,487.8 1307.0,486.9 1307.3,482.2C1307.6,478.1 1307.9,473.1 1308.2,469.0C1308.6,464.3 1309.0,459.7 1309.3,455.8C1309.7,450.8 1310.2,446.4 1310.6,442.5C1311.2,437.5 1311.8,433.4 1312.3,429.3C1313.0,424.6 1313.7,420.2 1314.3,416.1C1315.1,411.4 1315.8,407.4 1316.6,402.9C1317.3,398.6 1318.0,393.4 1318.7,389.7C1319.7,384.5 1320.6,379.4 1321.6,376.4C1322.8,372.8 1324.0,370.6 1325.2,368.5C1326.5,366.1 1327.8,363.6 1329.1,362.6C1330.2,361.7 1331.2,360.8 1332.2,360.8C1332.9,360.8 1333.6,363.7 1334.3,366.7C1334.8,368.9 1335.3,375.1 1335.9,379.9C1336.3,383.9 1336.7,388.3 1337.2,393.1C1337.6,397.9 1338.1,404.2 1338.5,409.0C1338.9,413.8 1339.4,422.2 1339.8,422.2C1340.3,422.2 1340.7,413.8 1341.2,409.0C1341.6,404.2 1342.0,398.4 1342.5,393.1C1342.9,387.8 1343.4,381.8 1343.8,377.3C1344.2,372.7 1344.7,367.2 1345.1,365.4C1345.8,362.5 1346.4,360.3 1347.1,360.1C1347.5,359.9 1348.0,359.8 1348.4,359.8C1349.4,359.8 1350.5,370.0 1351.5,370.0C1352.1,370.0 1352.7,360.3 1353.3,356.1C1353.9,352.2 1354.5,348.0 1355.0,345.5C1355.7,342.6 1356.4,340.1 1357.0,338.9C1357.9,337.3 1358.8,336.1 1359.7,335.6C1360.6,335.1 1361.6,334.7 1362.6,334.7C1363.6,334.7 1364.6,336.1 1365.6,336.9C1366.5,337.7 1367.4,339.1 1368.3,339.6C1368.8,339.9 1369.4,340.2 1370.0,340.2C1370.7,340.2 1371.5,338.5 1372.2,338.3C1372.9,338.0 1373.5,337.9 1374.2,337.9C1374.9,337.9 1375.5,340.2 1376.2,341.6C1376.8,342.7 1377.3,344.7 1377.9,345.5C1378.3,346.1 1378.8,346.8 1379.2,346.8C1380.0,346.8 1380.7,344.4 1381.5,342.9C1382.0,341.7 1382.6,339.5 1383.2,338.9C1383.8,338.2 1384.4,337.6 1385.0,337.6C1385.8,337.6 1386.5,339.8 1387.2,341.6C1387.7,342.8 1388.2,345.0 1388.7,346.8C1389.2,348.4 1389.6,350.9 1390.1,351.5C1390.4,352.0 1390.8,352.4 1391.1,352.4C1391.7,352.4 1392.2,346.9 1392.7,342.9C1393.1,340.2 1393.4,335.2 1393.8,332.3C1394.2,328.7 1394.7,325.4 1395.1,323.1C1395.7,319.7 1396.3,316.7 1396.9,315.1C1397.7,313.1 1398.5,311.5 1399.3,310.9C1400.4,310.0 1401.5,309.4 1402.6,309.2C1404.2,308.8 1405.7,308.5 1407.3,308.5C1408.6,308.5 1409.9,309.1 1411.2,309.8C1412.2,310.4 1413.2,311.8 1414.1,313.8C1414.8,315.2 1415.5,318.7 1416.2,321.7C1416.9,324.4 1417.5,329.1 1418.1,331.0C1418.9,333.5 1419.7,334.4 1420.5,336.3C1421.4,338.3 1422.2,340.7 1423.1,342.9C1424.0,345.1 1424.9,347.3 1425.8,349.5C1426.6,351.7 1427.5,353.9 1428.4,356.1C1429.3,358.3 1430.2,360.0 1431.1,362.7C1431.7,364.8 1432.4,366.9 1433.0,370.6C1433.5,373.2 1433.9,377.6 1434.4,382.5C1434.7,386.0 1435.0,391.6 1435.3,395.8C1435.6,400.5 1436.0,405.2 1436.3,409.0C1436.6,411.4 1436.8,415.3 1437.0,415.3C1437.4,415.3 1437.9,406.7 1438.3,402.4C1438.8,398.0 1439.2,394.4 1439.6,389.2C1440.0,385.5 1440.3,377.9 1440.6,375.9C1441.0,373.1 1441.5,371.0 1441.9,370.6C1442.3,370.3 1442.8,370.0 1443.2,370.0C1444.4,370.0 1445.5,377.3 1446.7,377.3C1447.4,377.3 1448.2,374.8 1448.9,372.0C1449.3,370.3 1449.8,364.3 1450.2,361.4C1450.8,357.7 1451.4,354.9 1451.9,352.1C1452.6,349.2 1453.2,346.0 1453.8,344.2C1454.6,341.9 1455.4,340.3 1456.2,338.9C1457.3,337.0 1458.4,335.6 1459.5,334.3C1460.8,332.7 1462.1,331.4 1463.4,330.2C1465.0,328.7 1466.7,327.4 1468.3,326.3C1469.5,325.5 1470.8,324.9 1472.0,324.2C1473.0,323.7 1473.9,323.2 1474.9,322.6C1476.0,321.9 1477.2,320.9 1478.3,320.4C1479.4,319.9 1480.5,319.4 1481.6,319.3C1482.7,319.2 1483.9,319.2 1485.0,319.2C1486.2,319.2 1487.3,319.9 1488.5,320.2C1489.8,320.6 1491.1,320.9 1492.4,321.2L1498.3,341.2"/>
<path class="curve" stroke="#7030A0" transform="translate(0,-0.35)" d="M93.5,510.5C99.7,510.6 106.0,510.8 112.3,510.8C131.4,510.8 150.5,509.9 169.7,509.9C175.6,509.9 181.6,510.7 187.6,511.4C190.0,511.7 192.4,512.6 194.8,512.6C198.4,512.6 202.0,512.6 205.5,512.6C207.6,512.6 209.7,511.5 211.8,510.8C213.3,510.4 214.8,509.2 216.3,509.2C218.1,509.2 219.9,510.4 221.7,510.5C228.3,510.8 234.8,510.8 241.4,510.8C253.4,510.8 265.3,509.2 277.3,508.7C295.2,507.9 313.1,506.9 331.1,506.9C346.0,506.9 361.0,507.4 375.9,507.4C383.7,507.4 391.5,507.1 399.2,506.9C399.5,506.9 399.7,506.9 400.0,506.9C404.4,506.9 408.8,507.3 413.2,507.3C417.6,507.3 422.0,507.3 426.4,507.3C430.8,507.3 435.3,507.4 439.7,507.5C444.1,507.7 448.5,507.8 452.9,508.1C455.1,508.2 457.3,508.8 459.5,509.4C461.3,509.9 463.0,510.4 464.8,511.2C466.1,511.9 467.4,513.1 468.7,514.3C470.1,515.4 471.4,516.9 472.7,518.3C473.8,519.4 474.9,520.9 476.0,521.6C477.1,522.2 478.2,522.4 479.3,522.9C480.4,523.4 481.5,523.8 482.6,524.9C483.3,525.5 484.0,527.7 484.6,529.5C485.3,531.3 485.9,533.4 486.6,536.1C487.2,538.5 487.7,542.1 488.3,545.4C488.8,548.3 489.4,551.5 489.9,554.6C490.4,557.7 491.0,560.9 491.5,563.9C492.1,567.1 492.6,570.3 493.2,573.1C493.8,576.0 494.4,579.0 494.9,581.1C495.5,583.2 496.2,585.6 496.8,586.3C497.5,587.2 498.2,587.9 498.9,587.9C499.5,587.9 500.1,586.4 500.7,585.0C501.3,583.7 501.9,581.0 502.5,578.4C503.0,575.8 503.6,572.1 504.2,569.2C504.7,566.4 505.2,563.4 505.8,561.2C506.4,558.6 507.1,556.8 507.7,554.6C508.4,552.4 509.1,549.8 509.7,548.0C510.4,546.2 511.1,544.5 511.7,543.4C512.4,542.3 513.0,541.2 513.7,540.7C514.6,540.1 515.5,539.7 516.3,539.4C517.4,539.1 518.5,539.2 519.6,538.7C520.1,538.6 520.5,537.0 521.0,536.1C521.5,535.0 522.1,533.2 522.7,532.8C523.4,532.2 524.2,531.7 524.9,531.7C525.6,531.7 526.3,532.5 526.9,533.5C527.4,534.2 528.0,536.9 528.5,538.7C529.1,540.8 529.6,544.2 530.2,545.4C530.9,546.7 531.5,548.0 532.2,548.0C532.9,548.0 533.5,546.8 534.2,545.4C534.6,544.4 535.1,541.3 535.5,538.7C536.0,536.2 536.4,532.0 536.8,529.5C537.4,526.3 538.0,523.4 538.6,521.6C539.3,519.2 540.0,517.4 540.8,516.3C541.9,514.7 543.0,513.6 544.1,513.0C545.4,512.2 546.7,511.7 548.1,511.2C549.8,510.6 551.6,510.1 553.4,509.7C555.1,509.2 556.9,508.8 558.6,508.6C563.1,508.1 567.5,507.8 571.9,507.5C576.3,507.3 580.7,507.1 585.1,507.0C589.5,506.9 593.9,506.8 598.3,506.8C607.1,506.6 615.9,506.6 624.7,506.4C629.2,506.2 633.6,505.8 638.0,505.7C642.0,505.6 646.0,505.5 650.0,505.4C653.0,505.4 656.0,505.3 659.0,505.3C671.6,505.0 684.3,504.6 697.0,504.3C709.6,504.0 722.3,504.0 734.9,503.2C736.8,503.0 738.7,502.0 740.6,501.3C742.4,500.6 744.2,498.6 745.9,498.6C747.7,498.6 749.4,500.5 751.1,500.5C753.3,500.5 755.5,500.5 757.7,500.5C760.2,500.5 762.8,502.1 765.3,502.4C769.1,502.8 772.9,503.2 776.7,503.2C780.5,503.2 784.3,502.7 788.1,502.4C792.5,502.1 797.0,501.6 801.4,501.3C804.5,501.0 807.7,500.7 810.9,500.5C813.4,500.3 815.9,499.9 818.5,499.9C821.0,499.9 823.5,501.3 826.1,501.3C828.0,501.3 829.9,500.3 831.8,500.3C834.9,500.3 838.1,502.6 841.3,502.8C846.9,503.0 852.6,503.2 858.3,503.2C864.7,503.2 871.0,501.3 877.3,500.9C883.7,500.4 890.0,499.9 896.3,499.9C899.5,499.9 902.6,501.8 905.8,501.8C909.0,501.8 912.1,499.9 915.3,499.9C924.8,499.9 934.3,500.1 943.8,500.5C945.9,500.6 947.9,501.8 950.0,501.8C952.2,501.8 954.4,501.8 956.6,501.8C958.8,501.8 961.0,502.3 963.2,502.6C965.4,503.0 967.6,503.5 969.8,504.2C971.8,504.8 973.8,505.4 975.8,506.6C977.1,507.4 978.4,508.8 979.7,510.8C980.6,512.2 981.5,514.1 982.4,517.4C983.0,519.6 983.5,524.6 984.1,529.3C984.5,533.0 985.0,538.1 985.4,542.5C985.9,547.0 986.3,551.4 986.8,555.8C987.2,560.2 987.6,564.6 988.1,569.0C988.5,573.4 989.0,577.8 989.4,582.2C989.8,586.6 990.3,590.0 990.7,595.4C991.0,599.2 991.3,604.6 991.6,610.0C992.1,617.7 992.5,627.6 993.0,636.4C993.4,645.3 993.8,654.1 994.3,662.9C994.7,671.7 995.2,680.5 995.6,689.3C996.1,698.1 996.5,707.0 996.9,715.8C997.4,724.6 997.8,734.3 998.3,742.2C998.8,752.5 999.4,760.4 1000.0,770.0C1000.3,775.1 1000.6,782.7 1000.9,785.9C1001.6,793.6 1002.4,801.1 1003.1,801.1C1003.7,801.1 1004.3,794.2 1004.9,789.8C1005.3,786.5 1005.7,780.9 1006.2,777.9C1006.6,774.9 1007.1,770.7 1007.5,770.7C1008.1,770.7 1008.7,777.5 1009.2,783.2C1009.7,787.6 1010.1,796.4 1010.5,803.1C1011.0,809.7 1011.4,815.3 1011.9,822.9C1012.3,830.4 1012.8,840.5 1013.2,849.3C1013.6,858.1 1014.1,867.0 1014.5,875.8C1015.0,884.6 1015.4,893.4 1015.8,902.2C1016.2,910.1 1016.6,926.0 1017.0,926.0C1017.4,926.0 1017.7,912.6 1018.1,902.2C1018.3,895.7 1018.5,884.6 1018.7,875.8C1019.0,867.0 1019.2,860.6 1019.4,849.3C1019.5,842.6 1019.7,833.6 1019.8,822.9C1019.9,815.7 1020.0,814.0 1020.1,796.4C1020.1,793.1 1020.1,774.0 1020.1,770.0C1020.2,753.0 1020.3,747.0 1020.3,742.2C1020.6,727.4 1020.8,724.6 1021.0,715.8C1021.2,707.0 1021.4,696.2 1021.7,689.3C1022.0,678.3 1022.4,670.7 1022.7,662.9C1023.2,653.0 1023.6,645.3 1024.0,636.4C1024.5,627.6 1024.9,615.6 1025.4,610.0C1025.9,603.3 1026.4,601.1 1026.9,595.4C1027.3,591.7 1027.6,586.1 1028.0,582.2C1028.4,577.3 1028.9,572.6 1029.3,569.0C1030.0,563.6 1030.6,560.2 1031.3,555.8C1032.0,551.4 1032.6,546.5 1033.3,542.5C1034.0,538.6 1034.6,534.8 1035.3,532.0C1036.0,528.8 1036.8,525.7 1037.5,524.0C1038.5,521.8 1039.5,520.5 1040.6,519.4C1041.7,518.2 1042.8,517.4 1043.9,516.8C1045.6,515.8 1047.4,514.9 1049.2,514.5C1051.4,514.0 1053.6,513.9 1055.8,513.5C1057.5,513.1 1059.3,512.6 1061.1,511.9C1062.4,511.3 1063.7,509.7 1065.0,508.8C1066.3,508.0 1067.7,507.1 1069.0,506.6C1071.2,505.8 1073.4,505.4 1075.6,504.9C1077.8,504.4 1080.0,503.8 1082.2,503.5C1084.4,503.2 1086.6,502.9 1088.8,502.9C1092.3,502.9 1095.9,502.9 1099.4,502.9C1101.6,502.9 1103.8,503.7 1106.0,503.9C1108.2,504.2 1110.4,504.1 1112.6,504.5C1113.5,504.6 1114.4,505.2 1115.3,506.2C1115.8,506.8 1116.3,508.5 1116.8,510.8C1117.3,512.7 1117.7,518.3 1118.2,521.4C1118.7,525.4 1119.3,528.1 1119.9,532.0C1120.5,535.9 1121.0,540.6 1121.6,545.2C1122.1,549.4 1122.7,555.5 1123.2,558.4C1123.8,562.0 1124.5,563.5 1125.2,566.3C1125.8,569.2 1126.5,572.7 1127.2,575.6C1127.8,578.4 1128.5,582.3 1129.1,583.5C1129.6,584.3 1130.0,585.1 1130.5,585.1C1131.1,585.1 1131.8,583.8 1132.4,582.2C1133.0,580.9 1133.5,574.5 1134.0,571.6C1134.6,568.5 1135.2,564.5 1135.7,563.7C1136.3,562.9 1136.9,562.4 1137.5,562.4C1138.0,562.4 1138.5,564.6 1139.1,566.3C1139.7,568.6 1140.4,572.7 1141.0,576.9C1141.6,580.5 1142.2,585.4 1142.8,590.1C1143.2,593.8 1143.6,597.3 1144.1,602.0C1144.4,605.3 1144.7,614.0 1145.0,614.0C1145.4,614.0 1145.9,605.7 1146.3,602.0C1146.9,597.3 1147.5,593.6 1148.0,588.8C1148.5,585.1 1148.9,579.3 1149.4,576.9C1149.8,574.6 1150.2,571.9 1150.7,571.9C1151.3,571.9 1152.0,576.9 1152.6,582.0C1153.1,585.4 1153.5,594.1 1154.0,600.5C1154.3,605.6 1154.7,612.5 1155.0,616.3C1155.3,619.7 1155.6,624.3 1155.9,624.3C1156.5,624.3 1157.1,620.6 1157.7,619.0C1158.2,617.5 1158.7,615.4 1159.3,615.0C1159.8,614.6 1160.3,614.4 1160.8,614.4C1161.6,614.4 1162.4,616.9 1163.2,619.0C1163.9,620.7 1164.5,623.7 1165.2,626.9C1165.8,629.7 1166.3,634.2 1166.9,637.5C1167.5,640.5 1168.0,646.1 1168.5,646.1C1168.9,646.1 1169.4,636.7 1169.8,632.2C1170.4,626.8 1170.9,621.6 1171.4,616.3C1172.0,610.6 1172.6,604.7 1173.1,599.2C1173.7,593.7 1174.3,588.0 1174.9,583.3C1175.4,578.9 1175.9,574.2 1176.4,571.4C1177.1,567.9 1177.8,564.7 1178.4,563.5C1179.3,561.7 1180.2,560.2 1181.1,560.2C1181.9,560.2 1182.8,563.1 1183.7,564.8C1184.6,566.4 1185.5,568.3 1186.4,570.1C1187.2,571.8 1188.1,573.2 1189.0,575.4C1189.7,577.1 1190.5,578.9 1191.2,582.0C1191.8,584.3 1192.4,588.5 1193.0,592.5C1193.4,595.6 1193.8,599.2 1194.3,603.1C1194.7,607.0 1195.2,611.6 1195.6,616.3C1195.9,619.6 1196.2,623.4 1196.5,626.9C1196.9,630.9 1197.2,633.6 1197.6,638.8C1197.8,642.1 1198.0,648.9 1198.3,652.0C1198.5,655.1 1198.7,659.2 1198.9,659.2C1199.4,659.2 1199.8,652.7 1200.2,650.6C1201.0,646.7 1201.8,641.7 1202.6,641.7C1203.4,641.7 1204.1,644.0 1204.9,645.3C1205.7,646.8 1206.6,650.3 1207.5,650.3C1208.6,650.3 1209.7,646.9 1210.8,645.3C1211.9,643.7 1213.0,640.8 1214.1,640.8C1214.8,640.8 1215.4,647.5 1216.1,653.2C1216.5,656.3 1216.8,661.7 1217.2,666.4C1217.5,670.6 1217.8,675.3 1218.1,679.7C1218.4,684.1 1218.7,688.1 1219.0,692.9C1219.3,697.0 1219.5,701.3 1219.8,706.1C1220.0,710.1 1220.2,715.2 1220.5,719.3C1220.8,725.2 1221.1,735.8 1221.4,735.8C1221.8,735.8 1222.3,726.9 1222.7,722.0C1223.2,717.0 1223.6,710.9 1224.0,706.1C1224.5,701.3 1224.9,696.5 1225.4,692.9C1225.8,689.3 1226.2,685.0 1226.7,683.6C1227.3,681.6 1228.0,679.9 1228.7,679.9C1229.4,679.9 1230.2,684.1 1230.9,687.6C1231.5,690.3 1232.1,695.6 1232.6,699.5C1233.3,704.0 1234.0,707.7 1234.6,712.7C1235.3,717.7 1235.9,724.0 1236.6,729.9C1237.2,735.0 1237.7,739.8 1238.3,745.8C1238.8,750.4 1239.2,755.1 1239.6,761.6C1239.9,766.2 1240.3,768.3 1240.6,778.8C1240.6,781.8 1240.7,795.7 1240.8,799.8C1241.0,810.1 1241.3,814.5 1241.5,819.7C1241.8,827.9 1242.2,833.6 1242.5,839.5C1243.0,846.9 1243.4,853.3 1243.9,859.3C1244.4,866.6 1244.9,873.8 1245.5,879.2C1246.2,887.2 1247.0,894.0 1247.8,899.0C1248.7,904.5 1249.6,908.8 1250.5,912.2C1251.4,915.9 1252.4,921.2 1253.4,921.2C1254.1,921.2 1254.8,917.1 1255.5,912.2C1255.9,909.2 1256.4,900.2 1256.8,892.4C1257.1,886.9 1257.4,879.2 1257.7,872.5C1258.1,865.9 1258.4,859.8 1258.7,852.7C1258.9,846.6 1259.2,840.1 1259.5,832.9C1259.7,826.9 1259.9,819.7 1260.1,813.1C1260.3,806.4 1260.6,799.5 1260.8,793.2C1261.0,788.2 1261.1,782.5 1261.3,778.8C1261.6,773.3 1261.8,767.7 1262.1,765.6C1262.6,762.0 1263.0,759.0 1263.4,759.0C1264.0,759.0 1264.7,765.5 1265.3,769.6C1266.0,774.2 1266.7,786.1 1267.4,786.1C1267.9,786.1 1268.5,777.6 1269.0,772.2C1269.4,767.7 1269.9,761.8 1270.3,756.3C1270.7,750.8 1271.2,742.5 1271.6,739.2C1272.3,734.1 1273.0,728.8 1273.6,728.8C1274.3,728.8 1274.9,735.1 1275.6,740.5C1276.0,744.0 1276.5,750.4 1276.9,756.3C1277.3,761.1 1277.6,764.1 1278.0,772.2C1278.2,776.2 1278.3,789.0 1278.5,793.2C1278.8,799.6 1279.0,802.4 1279.3,806.4C1279.6,811.2 1279.9,815.2 1280.2,819.7C1280.7,826.1 1281.1,832.9 1281.5,839.5C1282.0,846.1 1282.4,852.7 1282.9,859.3C1283.3,865.9 1283.7,872.9 1284.2,879.2C1284.6,885.4 1285.1,897.0 1285.5,897.0C1286.2,897.0 1286.8,886.7 1287.5,879.2C1287.9,874.1 1288.4,865.9 1288.8,859.3C1289.3,852.7 1289.7,846.9 1290.1,839.5C1290.5,833.6 1290.8,826.7 1291.2,819.7C1291.5,813.5 1291.8,805.3 1292.1,799.8C1292.6,792.0 1293.0,785.7 1293.4,780.0C1293.7,777.1 1293.9,774.8 1294.1,772.2C1294.5,767.0 1295.0,760.9 1295.4,756.3C1296.0,750.8 1296.5,744.4 1297.0,741.8C1297.6,739.0 1298.2,736.1 1298.7,736.1C1299.4,736.1 1300.1,741.1 1300.7,745.8C1301.2,748.9 1301.6,756.6 1302.0,761.6C1302.6,767.7 1303.1,778.8 1303.6,778.8C1304.3,778.8 1305.0,768.0 1305.7,761.6C1306.3,756.9 1306.8,752.1 1307.3,745.8C1307.8,740.4 1308.2,732.5 1308.6,725.9C1309.1,719.3 1309.5,712.1 1310.0,706.1C1310.5,698.9 1311.0,692.2 1311.6,686.3C1312.1,679.9 1312.7,674.6 1313.3,669.1C1313.8,663.6 1314.4,658.2 1315.0,653.2C1315.5,648.6 1316.0,644.9 1316.6,640.0C1317.2,633.9 1317.9,624.4 1318.6,619.0C1319.2,613.6 1319.9,609.1 1320.5,605.8C1321.4,601.3 1322.3,597.9 1323.2,595.2C1324.1,592.5 1325.0,590.5 1325.8,588.6C1326.7,586.6 1327.6,584.3 1328.5,583.3C1329.4,582.2 1330.4,580.9 1331.4,580.9C1332.2,580.9 1333.0,583.3 1333.8,585.9C1334.4,588.1 1335.1,594.4 1335.7,599.2C1336.3,603.3 1336.9,607.4 1337.5,612.4C1337.9,616.2 1338.3,620.6 1338.8,625.6C1339.1,629.1 1339.4,635.1 1339.7,637.5C1339.9,639.2 1340.2,641.2 1340.4,641.2C1340.7,641.2 1341.1,633.6 1341.4,629.6C1341.9,624.5 1342.3,618.8 1342.8,613.7C1343.2,608.6 1343.6,603.5 1344.1,599.2C1344.5,594.8 1345.0,589.6 1345.4,587.3C1345.9,584.4 1346.5,581.6 1347.0,581.3C1347.4,581.1 1347.9,580.9 1348.3,580.9C1349.3,580.9 1350.2,585.9 1351.2,585.9C1351.8,585.9 1352.4,582.3 1352.9,579.3C1353.4,577.0 1353.8,572.0 1354.3,568.7C1354.7,565.5 1355.1,561.2 1355.6,559.5C1356.2,556.9 1356.9,555.3 1357.6,554.2C1358.4,552.7 1359.3,551.4 1360.2,550.9C1361.1,550.4 1362.0,550.0 1362.9,550.0C1363.7,550.0 1364.6,551.4 1365.5,552.2C1366.4,553.1 1367.3,555.3 1368.1,555.3C1369.0,555.3 1369.9,554.9 1370.8,554.9C1371.7,554.9 1372.5,555.1 1373.4,555.5C1374.3,555.9 1375.2,558.1 1376.1,559.5C1377.0,560.9 1377.8,563.7 1378.7,563.7C1379.6,563.7 1380.5,562.2 1381.4,560.8C1382.0,559.8 1382.7,556.4 1383.3,556.2C1384.0,555.9 1384.7,555.8 1385.3,555.8C1386.0,555.8 1386.6,558.1 1387.3,559.5C1388.2,561.3 1389.1,565.8 1390.0,565.8C1390.6,565.8 1391.3,564.3 1391.9,562.1C1392.4,560.7 1392.8,554.0 1393.3,550.2C1393.7,546.5 1394.1,542.9 1394.6,539.7C1395.1,535.8 1395.6,531.2 1396.2,529.1C1396.6,527.5 1396.9,526.5 1397.3,525.5C1398.0,523.9 1398.7,522.0 1399.3,521.6C1400.4,520.8 1401.5,520.7 1402.6,520.2C1403.3,519.9 1404.0,519.3 1404.6,519.2C1405.5,519.0 1406.4,518.9 1407.3,518.9C1408.6,518.9 1409.9,519.8 1411.2,520.9C1412.1,521.6 1413.0,523.3 1413.9,525.5C1414.5,527.2 1415.2,530.6 1415.8,533.5C1416.4,535.9 1417.0,538.6 1417.6,541.4C1418.1,543.9 1418.6,547.2 1419.2,549.3C1419.8,552.0 1420.5,554.0 1421.1,555.9C1421.8,557.9 1422.5,559.1 1423.1,561.2C1423.8,563.3 1424.4,566.3 1425.1,569.2C1425.7,571.6 1426.2,574.3 1426.8,577.1C1427.4,579.6 1427.9,582.9 1428.4,585.0C1429.1,587.7 1429.7,588.7 1430.4,591.6C1431.0,594.1 1431.5,598.2 1432.1,602.2C1432.6,605.3 1433.0,609.8 1433.4,612.8C1434.0,616.4 1434.5,618.0 1435.0,622.0C1435.4,624.7 1435.7,630.3 1436.1,632.9C1436.4,635.1 1436.7,638.2 1437.0,638.2C1437.4,638.2 1437.9,631.2 1438.3,626.3C1438.6,622.8 1438.9,617.3 1439.2,613.1C1439.5,609.4 1439.8,603.3 1440.0,602.5C1440.6,600.8 1441.1,599.8 1441.6,599.8C1442.2,599.8 1442.7,599.8 1443.2,599.8C1444.4,599.8 1445.5,605.1 1446.7,605.1C1447.4,605.1 1448.2,602.5 1448.9,599.8C1449.6,597.5 1450.2,591.4 1450.9,586.6C1451.2,584.1 1451.6,580.6 1451.9,578.4C1452.5,575.1 1453.0,572.3 1453.5,570.5C1454.2,568.2 1454.8,567.1 1455.5,565.2C1456.2,563.2 1456.8,560.5 1457.5,558.6C1458.4,556.0 1459.3,553.9 1460.1,552.0C1461.0,550.0 1461.9,547.7 1462.8,546.7C1464.1,545.1 1465.4,544.6 1466.7,543.4C1468.1,542.2 1469.4,540.4 1470.7,539.4C1471.8,538.6 1472.9,538.7 1474.0,537.4C1474.5,536.9 1474.9,533.4 1475.3,532.1C1476.0,530.3 1476.7,527.9 1477.3,527.9C1478.2,527.9 1479.1,529.5 1480.0,530.8C1480.6,531.8 1481.3,532.6 1482.0,534.8C1482.4,536.2 1482.8,541.2 1483.3,544.0C1483.7,546.9 1484.2,550.6 1484.6,552.0C1484.9,552.9 1485.2,554.0 1485.5,554.0C1485.9,554.0 1486.2,546.8 1486.6,542.7C1486.9,538.7 1487.3,534.2 1487.6,529.5C1487.9,525.4 1488.3,519.6 1488.6,516.3C1488.9,512.4 1489.3,508.4 1489.6,507.0C1490.2,504.7 1490.9,504.2 1491.5,502.8L1496.8,542.7"/>
<path class="curve" stroke="#7030A0" transform="translate(0,0.35)" d="M93.5,510.5C99.7,510.6 106.0,510.8 112.3,510.8C131.4,510.8 150.5,509.9 169.7,509.9C175.6,509.9 181.6,510.7 187.6,511.4C190.0,511.7 192.4,512.6 194.8,512.6C198.4,512.6 202.0,512.6 205.5,512.6C207.6,512.6 209.7,511.5 211.8,510.8C213.3,510.4 214.8,509.2 216.3,509.2C218.1,509.2 219.9,510.4 221.7,510.5C228.3,510.8 234.8,510.8 241.4,510.8C253.4,510.8 265.3,509.2 277.3,508.7C295.2,507.9 313.1,506.9 331.1,506.9C346.0,506.9 361.0,507.4 375.9,507.4C383.7,507.4 391.5,507.1 399.2,506.9C399.5,506.9 399.7,506.9 400.0,506.9C404.4,506.9 408.8,507.3 413.2,507.3C417.6,507.3 422.0,507.3 426.4,507.3C430.8,507.3 435.3,507.4 439.7,507.5C444.1,507.7 448.5,507.8 452.9,508.1C455.1,508.2 457.3,508.8 459.5,509.4C461.3,509.9 463.0,510.4 464.8,511.2C466.1,511.9 467.4,513.1 468.7,514.3C470.1,515.4 471.4,516.9 472.7,518.3C473.8,519.4 474.9,520.9 476.0,521.6C477.1,522.2 478.2,522.4 479.3,522.9C480.4,523.4 481.5,523.8 482.6,524.9C483.3,525.5 484.0,527.7 484.6,529.5C485.3,531.3 485.9,533.4 486.6,536.1C487.2,538.5 487.7,542.1 488.3,545.4C488.8,548.3 489.4,551.5 489.9,554.6C490.4,557.7 491.0,560.9 491.5,563.9C492.1,567.1 492.6,570.3 493.2,573.1C493.8,576.0 494.4,579.0 494.9,581.1C495.5,583.2 496.2,585.6 496.8,586.3C497.5,587.2 498.2,587.9 498.9,587.9C499.5,587.9 500.1,586.4 500.7,585.0C501.3,583.7 501.9,581.0 502.5,578.4C503.0,575.8 503.6,572.1 504.2,569.2C504.7,566.4 505.2,563.4 505.8,561.2C506.4,558.6 507.1,556.8 507.7,554.6C508.4,552.4 509.1,549.8 509.7,548.0C510.4,546.2 511.1,544.5 511.7,543.4C512.4,542.3 513.0,541.2 513.7,540.7C514.6,540.1 515.5,539.7 516.3,539.4C517.4,539.1 518.5,539.2 519.6,538.7C520.1,538.6 520.5,537.0 521.0,536.1C521.5,535.0 522.1,533.2 522.7,532.8C523.4,532.2 524.2,531.7 524.9,531.7C525.6,531.7 526.3,532.5 526.9,533.5C527.4,534.2 528.0,536.9 528.5,538.7C529.1,540.8 529.6,544.2 530.2,545.4C530.9,546.7 531.5,548.0 532.2,548.0C532.9,548.0 533.5,546.8 534.2,545.4C534.6,544.4 535.1,541.3 535.5,538.7C536.0,536.2 536.4,532.0 536.8,529.5C537.4,526.3 538.0,523.4 538.6,521.6C539.3,519.2 540.0,517.4 540.8,516.3C541.9,514.7 543.0,513.6 544.1,513.0C545.4,512.2 546.7,511.7 548.1,511.2C549.8,510.6 551.6,510.1 553.4,509.7C555.1,509.2 556.9,508.8 558.6,508.6C563.1,508.1 567.5,507.8 571.9,507.5C576.3,507.3 580.7,507.1 585.1,507.0C589.5,506.9 593.9,506.8 598.3,506.8C607.1,506.6 615.9,506.6 624.7,506.4C629.2,506.2 633.6,505.8 638.0,505.7C642.0,505.6 646.0,505.5 650.0,505.4C653.0,505.4 656.0,505.3 659.0,505.3C671.6,505.0 684.3,504.6 697.0,504.3C709.6,504.0 722.3,504.0 734.9,503.2C736.8,503.0 738.7,502.0 740.6,501.3C742.4,500.6 744.2,498.6 745.9,498.6C747.7,498.6 749.4,500.5 751.1,500.5C753.3,500.5 755.5,500.5 757.7,500.5C760.2,500.5 762.8,502.1 765.3,502.4C769.1,502.8 772.9,503.2 776.7,503.2C780.5,503.2 784.3,502.7 788.1,502.4C792.5,502.1 797.0,501.6 801.4,501.3C804.5,501.0 807.7,500.7 810.9,500.5C813.4,500.3 815.9,499.9 818.5,499.9C821.0,499.9 823.5,501.3 826.1,501.3C828.0,501.3 829.9,500.3 831.8,500.3C834.9,500.3 838.1,502.6 841.3,502.8C846.9,503.0 852.6,503.2 858.3,503.2C864.7,503.2 871.0,501.3 877.3,500.9C883.7,500.4 890.0,499.9 896.3,499.9C899.5,499.9 902.6,501.8 905.8,501.8C909.0,501.8 912.1,499.9 915.3,499.9C924.8,499.9 934.3,500.1 943.8,500.5C945.9,500.6 947.9,501.8 950.0,501.8C952.2,501.8 954.4,501.8 956.6,501.8C958.8,501.8 961.0,502.3 963.2,502.6C965.4,503.0 967.6,503.5 969.8,504.2C971.8,504.8 973.8,505.4 975.8,506.6C977.1,507.4 978.4,508.8 979.7,510.8C980.6,512.2 981.5,514.1 982.4,517.4C983.0,519.6 983.5,524.6 984.1,529.3C984.5,533.0 985.0,538.1 985.4,542.5C985.9,547.0 986.3,551.4 986.8,555.8C987.2,560.2 987.6,564.6 988.1,569.0C988.5,573.4 989.0,577.8 989.4,582.2C989.8,586.6 990.3,590.0 990.7,595.4C991.0,599.2 991.3,604.6 991.6,610.0C992.1,617.7 992.5,627.6 993.0,636.4C993.4,645.3 993.8,654.1 994.3,662.9C994.7,671.7 995.2,680.5 995.6,689.3C996.1,698.1 996.5,707.0 996.9,715.8C997.4,724.6 997.8,734.3 998.3,742.2C998.8,752.5 999.4,760.4 1000.0,770.0C1000.3,775.1 1000.6,782.7 1000.9,785.9C1001.6,793.6 1002.4,801.1 1003.1,801.1C1003.7,801.1 1004.3,794.2 1004.9,789.8C1005.3,786.5 1005.7,780.9 1006.2,777.9C1006.6,774.9 1007.1,770.7 1007.5,770.7C1008.1,770.7 1008.7,777.5 1009.2,783.2C1009.7,787.6 1010.1,796.4 1010.5,803.1C1011.0,809.7 1011.4,815.3 1011.9,822.9C1012.3,830.4 1012.8,840.5 1013.2,849.3C1013.6,858.1 1014.1,867.0 1014.5,875.8C1015.0,884.6 1015.4,893.4 1015.8,902.2C1016.2,910.1 1016.6,926.0 1017.0,926.0C1017.4,926.0 1017.7,912.6 1018.1,902.2C1018.3,895.7 1018.5,884.6 1018.7,875.8C1019.0,867.0 1019.2,860.6 1019.4,849.3C1019.5,842.6 1019.7,833.6 1019.8,822.9C1019.9,815.7 1020.0,814.0 1020.1,796.4C1020.1,793.1 1020.1,774.0 1020.1,770.0C1020.2,753.0 1020.3,747.0 1020.3,742.2C1020.6,727.4 1020.8,724.6 1021.0,715.8C1021.2,707.0 1021.4,696.2 1021.7,689.3C1022.0,678.3 1022.4,670.7 1022.7,662.9C1023.2,653.0 1023.6,645.3 1024.0,636.4C1024.5,627.6 1024.9,615.6 1025.4,610.0C1025.9,603.3 1026.4,601.1 1026.9,595.4C1027.3,591.7 1027.6,586.1 1028.0,582.2C1028.4,577.3 1028.9,572.6 1029.3,569.0C1030.0,563.6 1030.6,560.2 1031.3,555.8C1032.0,551.4 1032.6,546.5 1033.3,542.5C1034.0,538.6 1034.6,534.8 1035.3,532.0C1036.0,528.8 1036.8,525.7 1037.5,524.0C1038.5,521.8 1039.5,520.5 1040.6,519.4C1041.7,518.2 1042.8,517.4 1043.9,516.8C1045.6,515.8 1047.4,514.9 1049.2,514.5C1051.4,514.0 1053.6,513.9 1055.8,513.5C1057.5,513.1 1059.3,512.6 1061.1,511.9C1062.4,511.3 1063.7,509.7 1065.0,508.8C1066.3,508.0 1067.7,507.1 1069.0,506.6C1071.2,505.8 1073.4,505.4 1075.6,504.9C1077.8,504.4 1080.0,503.8 1082.2,503.5C1084.4,503.2 1086.6,502.9 1088.8,502.9C1092.3,502.9 1095.9,502.9 1099.4,502.9C1101.6,502.9 1103.8,503.7 1106.0,503.9C1108.2,504.2 1110.4,504.1 1112.6,504.5C1113.5,504.6 1114.4,505.2 1115.3,506.2C1115.8,506.8 1116.3,508.5 1116.8,510.8C1117.3,512.7 1117.7,518.3 1118.2,521.4C1118.7,525.4 1119.3,528.1 1119.9,532.0C1120.5,535.9 1121.0,540.6 1121.6,545.2C1122.1,549.4 1122.7,555.5 1123.2,558.4C1123.8,562.0 1124.5,563.5 1125.2,566.3C1125.8,569.2 1126.5,572.7 1127.2,575.6C1127.8,578.4 1128.5,582.3 1129.1,583.5C1129.6,584.3 1130.0,585.1 1130.5,585.1C1131.1,585.1 1131.8,583.8 1132.4,582.2C1133.0,580.9 1133.5,574.5 1134.0,571.6C1134.6,568.5 1135.2,564.5 1135.7,563.7C1136.3,562.9 1136.9,562.4 1137.5,562.4C1138.0,562.4 1138.5,564.6 1139.1,566.3C1139.7,568.6 1140.4,572.7 1141.0,576.9C1141.6,580.5 1142.2,585.4 1142.8,590.1C1143.2,593.8 1143.6,597.3 1144.1,602.0C1144.4,605.3 1144.7,614.0 1145.0,614.0C1145.4,614.0 1145.9,605.7 1146.3,602.0C1146.9,597.3 1147.5,593.6 1148.0,588.8C1148.5,585.1 1148.9,579.3 1149.4,576.9C1149.8,574.6 1150.2,571.9 1150.7,571.9C1151.3,571.9 1152.0,576.9 1152.6,582.0C1153.1,585.4 1153.5,594.1 1154.0,600.5C1154.3,605.6 1154.7,612.5 1155.0,616.3C1155.3,619.7 1155.6,624.3 1155.9,624.3C1156.5,624.3 1157.1,620.6 1157.7,619.0C1158.2,617.5 1158.7,615.4 1159.3,615.0C1159.8,614.6 1160.3,614.4 1160.8,614.4C1161.6,614.4 1162.4,616.9 1163.2,619.0C1163.9,620.7 1164.5,623.7 1165.2,626.9C1165.8,629.7 1166.3,634.2 1166.9,637.5C1167.5,640.5 1168.0,646.1 1168.5,646.1C1168.9,646.1 1169.4,636.7 1169.8,632.2C1170.4,626.8 1170.9,621.6 1171.4,616.3C1172.0,610.6 1172.6,604.7 1173.1,599.2C1173.7,593.7 1174.3,588.0 1174.9,583.3C1175.4,578.9 1175.9,574.2 1176.4,571.4C1177.1,567.9 1177.8,564.7 1178.4,563.5C1179.3,561.7 1180.2,560.2 1181.1,560.2C1181.9,560.2 1182.8,563.1 1183.7,564.8C1184.6,566.4 1185.5,568.3 1186.4,570.1C1187.2,571.8 1188.1,573.2 1189.0,575.4C1189.7,577.1 1190.5,578.9 1191.2,582.0C1191.8,584.3 1192.4,588.5 1193.0,592.5C1193.4,595.6 1193.8,599.2 1194.3,603.1C1194.7,607.0 1195.2,611.6 1195.6,616.3C1195.9,619.6 1196.2,623.4 1196.5,626.9C1196.9,630.9 1197.2,633.6 1197.6,638.8C1197.8,642.1 1198.0,648.9 1198.3,652.0C1198.5,655.1 1198.7,659.2 1198.9,659.2C1199.4,659.2 1199.8,652.7 1200.2,650.6C1201.0,646.7 1201.8,641.7 1202.6,641.7C1203.4,641.7 1204.1,644.0 1204.9,645.3C1205.7,646.8 1206.6,650.3 1207.5,650.3C1208.6,650.3 1209.7,646.9 1210.8,645.3C1211.9,643.7 1213.0,640.8 1214.1,640.8C1214.8,640.8 1215.4,647.5 1216.1,653.2C1216.5,656.3 1216.8,661.7 1217.2,666.4C1217.5,670.6 1217.8,675.3 1218.1,679.7C1218.4,684.1 1218.7,688.1 1219.0,692.9C1219.3,697.0 1219.5,701.3 1219.8,706.1C1220.0,710.1 1220.2,715.2 1220.5,719.3C1220.8,725.2 1221.1,735.8 1221.4,735.8C1221.8,735.8 1222.3,726.9 1222.7,722.0C1223.2,717.0 1223.6,710.9 1224.0,706.1C1224.5,701.3 1224.9,696.5 1225.4,692.9C1225.8,689.3 1226.2,685.0 1226.7,683.6C1227.3,681.6 1228.0,679.9 1228.7,679.9C1229.4,679.9 1230.2,684.1 1230.9,687.6C1231.5,690.3 1232.1,695.6 1232.6,699.5C1233.3,704.0 1234.0,707.7 1234.6,712.7C1235.3,717.7 1235.9,724.0 1236.6,729.9C1237.2,735.0 1237.7,739.8 1238.3,745.8C1238.8,750.4 1239.2,755.1 1239.6,761.6C1239.9,766.2 1240.3,768.3 1240.6,778.8C1240.6,781.8 1240.7,795.7 1240.8,799.8C1241.0,810.1 1241.3,814.5 1241.5,819.7C1241.8,827.9 1242.2,833.6 1242.5,839.5C1243.0,846.9 1243.4,853.3 1243.9,859.3C1244.4,866.6 1244.9,873.8 1245.5,879.2C1246.2,887.2 1247.0,894.0 1247.8,899.0C1248.7,904.5 1249.6,908.8 1250.5,912.2C1251.4,915.9 1252.4,921.2 1253.4,921.2C1254.1,921.2 1254.8,917.1 1255.5,912.2C1255.9,909.2 1256.4,900.2 1256.8,892.4C1257.1,886.9 1257.4,879.2 1257.7,872.5C1258.1,865.9 1258.4,859.8 1258.7,852.7C1258.9,846.6 1259.2,840.1 1259.5,832.9C1259.7,826.9 1259.9,819.7 1260.1,813.1C1260.3,806.4 1260.6,799.5 1260.8,793.2C1261.0,788.2 1261.1,782.5 1261.3,778.8C1261.6,773.3 1261.8,767.7 1262.1,765.6C1262.6,762.0 1263.0,759.0 1263.4,759.0C1264.0,759.0 1264.7,765.5 1265.3,769.6C1266.0,774.2 1266.7,786.1 1267.4,786.1C1267.9,786.1 1268.5,777.6 1269.0,772.2C1269.4,767.7 1269.9,761.8 1270.3,756.3C1270.7,750.8 1271.2,742.5 1271.6,739.2C1272.3,734.1 1273.0,728.8 1273.6,728.8C1274.3,728.8 1274.9,735.1 1275.6,740.5C1276.0,744.0 1276.5,750.4 1276.9,756.3C1277.3,761.1 1277.6,764.1 1278.0,772.2C1278.2,776.2 1278.3,789.0 1278.5,793.2C1278.8,799.6 1279.0,802.4 1279.3,806.4C1279.6,811.2 1279.9,815.2 1280.2,819.7C1280.7,826.1 1281.1,832.9 1281.5,839.5C1282.0,846.1 1282.4,852.7 1282.9,859.3C1283.3,865.9 1283.7,872.9 1284.2,879.2C1284.6,885.4 1285.1,897.0 1285.5,897.0C1286.2,897.0 1286.8,886.7 1287.5,879.2C1287.9,874.1 1288.4,865.9 1288.8,859.3C1289.3,852.7 1289.7,846.9 1290.1,839.5C1290.5,833.6 1290.8,826.7 1291.2,819.7C1291.5,813.5 1291.8,805.3 1292.1,799.8C1292.6,792.0 1293.0,785.7 1293.4,780.0C1293.7,777.1 1293.9,774.8 1294.1,772.2C1294.5,767.0 1295.0,760.9 1295.4,756.3C1296.0,750.8 1296.5,744.4 1297.0,741.8C1297.6,739.0 1298.2,736.1 1298.7,736.1C1299.4,736.1 1300.1,741.1 1300.7,745.8C1301.2,748.9 1301.6,756.6 1302.0,761.6C1302.6,767.7 1303.1,778.8 1303.6,778.8C1304.3,778.8 1305.0,768.0 1305.7,761.6C1306.3,756.9 1306.8,752.1 1307.3,745.8C1307.8,740.4 1308.2,732.5 1308.6,725.9C1309.1,719.3 1309.5,712.1 1310.0,706.1C1310.5,698.9 1311.0,692.2 1311.6,686.3C1312.1,679.9 1312.7,674.6 1313.3,669.1C1313.8,663.6 1314.4,658.2 1315.0,653.2C1315.5,648.6 1316.0,644.9 1316.6,640.0C1317.2,633.9 1317.9,624.4 1318.6,619.0C1319.2,613.6 1319.9,609.1 1320.5,605.8C1321.4,601.3 1322.3,597.9 1323.2,595.2C1324.1,592.5 1325.0,590.5 1325.8,588.6C1326.7,586.6 1327.6,584.3 1328.5,583.3C1329.4,582.2 1330.4,580.9 1331.4,580.9C1332.2,580.9 1333.0,583.3 1333.8,585.9C1334.4,588.1 1335.1,594.4 1335.7,599.2C1336.3,603.3 1336.9,607.4 1337.5,612.4C1337.9,616.2 1338.3,620.6 1338.8,625.6C1339.1,629.1 1339.4,635.1 1339.7,637.5C1339.9,639.2 1340.2,641.2 1340.4,641.2C1340.7,641.2 1341.1,633.6 1341.4,629.6C1341.9,624.5 1342.3,618.8 1342.8,613.7C1343.2,608.6 1343.6,603.5 1344.1,599.2C1344.5,594.8 1345.0,589.6 1345.4,587.3C1345.9,584.4 1346.5,581.6 1347.0,581.3C1347.4,581.1 1347.9,580.9 1348.3,580.9C1349.3,580.9 1350.2,585.9 1351.2,585.9C1351.8,585.9 1352.4,582.3 1352.9,579.3C1353.4,577.0 1353.8,572.0 1354.3,568.7C1354.7,565.5 1355.1,561.2 1355.6,559.5C1356.2,556.9 1356.9,555.3 1357.6,554.2C1358.4,552.7 1359.3,551.4 1360.2,550.9C1361.1,550.4 1362.0,550.0 1362.9,550.0C1363.7,550.0 1364.6,551.4 1365.5,552.2C1366.4,553.1 1367.3,555.3 1368.1,555.3C1369.0,555.3 1369.9,554.9 1370.8,554.9C1371.7,554.9 1372.5,555.1 1373.4,555.5C1374.3,555.9 1375.2,558.1 1376.1,559.5C1377.0,560.9 1377.8,563.7 1378.7,563.7C1379.6,563.7 1380.5,562.2 1381.4,560.8C1382.0,559.8 1382.7,556.4 1383.3,556.2C1384.0,555.9 1384.7,555.8 1385.3,555.8C1386.0,555.8 1386.6,558.1 1387.3,559.5C1388.2,561.3 1389.1,565.8 1390.0,565.8C1390.6,565.8 1391.3,564.3 1391.9,562.1C1392.4,560.7 1392.8,554.0 1393.3,550.2C1393.7,546.5 1394.1,542.9 1394.6,539.7C1395.1,535.8 1395.6,531.2 1396.2,529.1C1396.6,527.5 1396.9,526.5 1397.3,525.5C1398.0,523.9 1398.7,522.0 1399.3,521.6C1400.4,520.8 1401.5,520.7 1402.6,520.2C1403.3,519.9 1404.0,519.3 1404.6,519.2C1405.5,519.0 1406.4,518.9 1407.3,518.9C1408.6,518.9 1409.9,519.8 1411.2,520.9C1412.1,521.6 1413.0,523.3 1413.9,525.5C1414.5,527.2 1415.2,530.6 1415.8,533.5C1416.4,535.9 1417.0,538.6 1417.6,541.4C1418.1,543.9 1418.6,547.2 1419.2,549.3C1419.8,552.0 1420.5,554.0 1421.1,555.9C1421.8,557.9 1422.5,559.1 1423.1,561.2C1423.8,563.3 1424.4,566.3 1425.1,569.2C1425.7,571.6 1426.2,574.3 1426.8,577.1C1427.4,579.6 1427.9,582.9 1428.4,585.0C1429.1,587.7 1429.7,588.7 1430.4,591.6C1431.0,594.1 1431.5,598.2 1432.1,602.2C1432.6,605.3 1433.0,609.8 1433.4,612.8C1434.0,616.4 1434.5,618.0 1435.0,622.0C1435.4,624.7 1435.7,630.3 1436.1,632.9C1436.4,635.1 1436.7,638.2 1437.0,638.2C1437.4,638.2 1437.9,631.2 1438.3,626.3C1438.6,622.8 1438.9,617.3 1439.2,613.1C1439.5,609.4 1439.8,603.3 1440.0,602.5C1440.6,600.8 1441.1,599.8 1441.6,599.8C1442.2,599.8 1442.7,599.8 1443.2,599.8C1444.4,599.8 1445.5,605.1 1446.7,605.1C1447.4,605.1 1448.2,602.5 1448.9,599.8C1449.6,597.5 1450.2,591.4 1450.9,586.6C1451.2,584.1 1451.6,580.6 1451.9,578.4C1452.5,575.1 1453.0,572.3 1453.5,570.5C1454.2,568.2 1454.8,567.1 1455.5,565.2C1456.2,563.2 1456.8,560.5 1457.5,558.6C1458.4,556.0 1459.3,553.9 1460.1,552.0C1461.0,550.0 1461.9,547.7 1462.8,546.7C1464.1,545.1 1465.4,544.6 1466.7,543.4C1468.1,542.2 1469.4,540.4 1470.7,539.4C1471.8,538.6 1472.9,538.7 1474.0,537.4C1474.5,536.9 1474.9,533.4 1475.3,532.1C1476.0,530.3 1476.7,527.9 1477.3,527.9C1478.2,527.9 1479.1,529.5 1480.0,530.8C1480.6,531.8 1481.3,532.6 1482.0,534.8C1482.4,536.2 1482.8,541.2 1483.3,544.0C1483.7,546.9 1484.2,550.6 1484.6,552.0C1484.9,552.9 1485.2,554.0 1485.5,554.0C1485.9,554.0 1486.2,546.8 1486.6,542.7C1486.9,538.7 1487.3,534.2 1487.6,529.5C1487.9,525.4 1488.3,519.6 1488.6,516.3C1488.9,512.4 1489.3,508.4 1489.6,507.0C1490.2,504.7 1490.9,504.2 1491.5,502.8L1496.8,542.7"/>
</svg>
<g class="tick">
<line x1="91.8" y1="1071.5" x2="1494.7" y2="1071.5" style="stroke-width:3"/>
<line x1="93.7" y1="1071.5" x2="93.7" y2="1079"/>
<line x1="136.1" y1="1071.5" x2="136.1" y2="1082"/>
<line x1="178.5" y1="1071.5" x2="178.5" y2="1079"/>
<line x1="221.0" y1="1071.5" x2="221.0" y2="1079"/>
<line x1="263.4" y1="1071.5" x2="263.4" y2="1079"/>
<line x1="305.8" y1="1071.5" x2="305.8" y2="1082"/>
<line x1="348.2" y1="1071.5" x2="348.2" y2="1079"/>
<line x1="390.6" y1="1071.5" x2="390.6" y2="1079"/>
<line x1="433.0" y1="1071.5" x2="433.0" y2="1079"/>
<line x1="475.5" y1="1071.5" x2="475.5" y2="1082"/>
<line x1="517.9" y1="1071.5" x2="517.9" y2="1079"/>
<line x1="560.3" y1="1071.5" x2="560.3" y2="1079"/>
<line x1="602.7" y1="1071.5" x2="602.7" y2="1079"/>
<line x1="645.1" y1="1071.5" x2="645.1" y2="1082"/>
<line x1="687.6" y1="1071.5" x2="687.6" y2="1079"/>
<line x1="730.0" y1="1071.5" x2="730.0" y2="1079"/>
<line x1="772.4" y1="1071.5" x2="772.4" y2="1079"/>
<line x1="814.8" y1="1071.5" x2="814.8" y2="1082"/>
<line x1="857.2" y1="1071.5" x2="857.2" y2="1079"/>
<line x1="899.6" y1="1071.5" x2="899.6" y2="1079"/>
<line x1="942.1" y1="1071.5" x2="942.1" y2="1079"/>
<line x1="984.5" y1="1071.5" x2="984.5" y2="1082"/>
<line x1="1026.9" y1="1071.5" x2="1026.9" y2="1079"/>
<line x1="1069.3" y1="1071.5" x2="1069.3" y2="1079"/>
<line x1="1111.7" y1="1071.5" x2="1111.7" y2="1079"/>
<line x1="1154.2" y1="1071.5" x2="1154.2" y2="1082"/>
<line x1="1196.6" y1="1071.5" x2="1196.6" y2="1079"/>
<line x1="1239.0" y1="1071.5" x2="1239.0" y2="1079"/>
<line x1="1281.4" y1="1071.5" x2="1281.4" y2="1079"/>
<line x1="1323.8" y1="1071.5" x2="1323.8" y2="1082"/>
<line x1="1366.2" y1="1071.5" x2="1366.2" y2="1079"/>
<line x1="1408.7" y1="1071.5" x2="1408.7" y2="1079"/>
<line x1="1451.1" y1="1071.5" x2="1451.1" y2="1079"/>
<line x1="1493.5" y1="1071.5" x2="1493.5" y2="1082"/>
</g>
<g class="lbl">
<text transform="translate(136.1,1121.9) scale(1,1.04)" text-anchor="middle">3800</text>
<text transform="translate(305.8,1121.9) scale(1,1.04)" text-anchor="middle">3400</text>
<text transform="translate(475.5,1121.9) scale(1,1.04)" text-anchor="middle">3000</text>
<text transform="translate(645.1,1121.9) scale(1,1.04)" text-anchor="middle">2600</text>
<text transform="translate(814.8,1121.9) scale(1,1.04)" text-anchor="middle">2200</text>
<text transform="translate(984.5,1121.9) scale(1,1.04)" text-anchor="middle">1800</text>
<text transform="translate(1154.2,1121.9) scale(1,1.04)" text-anchor="middle">1400</text>
<text transform="translate(1323.8,1121.9) scale(1,1.04)" text-anchor="middle">1000</text>
<text transform="translate(1493.5,1121.9) scale(1,1.04)" text-anchor="middle">600</text>
</g>
<text class="ttl" transform="translate(584,1177.5) scale(1,1.03)">Wave number (cm<tspan font-size="30.5" dy="-12.2">-1</tspan><tspan dy="12.2" dx="0.3">)</tspan></text>
<text class="ttl" transform="translate(66.1,513.5) rotate(-90) scale(1,1.03)" text-anchor="middle">Transmittance (%)</text>
<g class="curve">
<line x1="1555.5" y1="410.5" x2="1609" y2="410.5" stroke="#66CEF5"/>
<line x1="1555.5" y1="464.3" x2="1609" y2="464.3" stroke="#FF0000"/>
<line x1="1555.5" y1="518" x2="1609" y2="518" stroke="#7030A0"/>
</g>
<g class="lbl">
<text transform="translate(1614.6,422) scale(1,1.04)">KGN</text>
<text transform="translate(1614.6,475) scale(1,1.04)">PCL-PLGA</text>
<text transform="translate(1614.6,528.7) scale(1,1.04)">PCL-PLGA-KGN</text>
</g>
</svg>
</body>
</html>
